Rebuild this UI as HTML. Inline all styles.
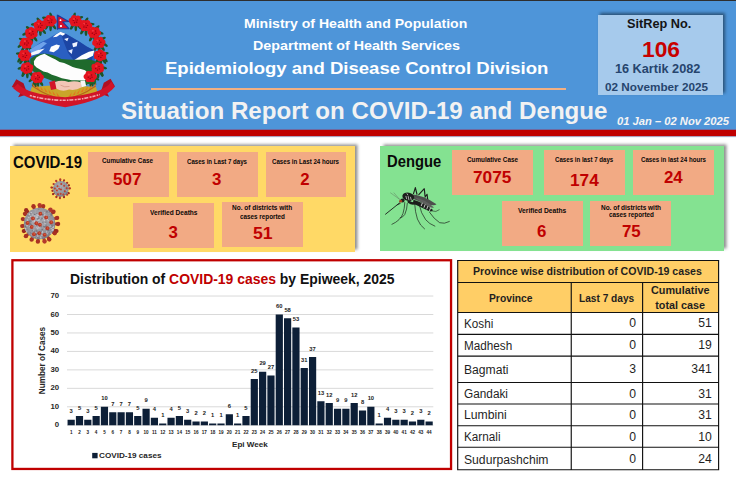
<!DOCTYPE html>
<html><head><meta charset="utf-8"><title>Situation Report on COVID-19 and Dengue</title>
<style>
html,body{margin:0;padding:0;background:#fff;}
body{width:736px;height:479px;position:relative;overflow:hidden;font-family:"Liberation Sans",sans-serif;}
.a{position:absolute;}
.t{position:absolute;white-space:nowrap;font-weight:bold;color:#fff;line-height:normal;}
.card{position:absolute;background:#f2aa84;}
</style></head><body>
<div class="a" style="left:0px;top:0px;width:736.00px;height:130.00px;background:#4e95d9;"></div>
<div class="a" style="left:0px;top:0px;width:736.00px;height:1.00px;background:#2e2e2e;"></div>
<div class="a" style="left:0px;top:129px;width:736.00px;height:1.00px;background:#7069a0;"></div>
<div class="a" style="left:0px;top:130px;width:736.00px;height:6.00px;background:#c00000;"></div>
<div class="a" style="left:0px;top:136px;width:736.00px;height:1.00px;background:#aca2bd;"></div>
<div class="a" style="left:0px;top:137px;width:736.00px;height:1.00px;background:#f0f5fc;"></div>
<div class="a" style="left:151px;top:87.7px;width:414.60px;height:2.00px;background:#f3b083;"></div>
<div class="a" style="left:598px;top:14.9px;width:125.20px;height:80.60px;background:#a6caec;box-shadow:2px -2px 3px rgba(0,0,0,.45);"></div>
<div class="a" style="left:10px;top:146.3px;width:345.00px;height:105.30px;background:#ffd966;box-shadow:2.5px -2.5px 3px rgba(0,0,0,.45);"></div>
<div class="a" style="left:379.6px;top:145.6px;width:344.40px;height:105.90px;background:#84e291;box-shadow:2.5px -2.5px 3px rgba(0,0,0,.45);"></div>
<div class="card" style="left:87.75px;top:152px;width:80.75px;height:44.50px"></div>
<div class="card" style="left:177px;top:152px;width:80.75px;height:44.50px"></div>
<div class="card" style="left:265.5px;top:152px;width:80.75px;height:44.50px"></div>
<div class="card" style="left:132.75px;top:203px;width:80.75px;height:44.50px"></div>
<div class="card" style="left:222px;top:202px;width:80.75px;height:44.50px"></div>
<div class="card" style="left:452px;top:150.25px;width:80.75px;height:44.50px"></div>
<div class="card" style="left:543.75px;top:150.25px;width:80.75px;height:44.50px"></div>
<div class="card" style="left:632.75px;top:150.25px;width:80.75px;height:44.50px"></div>
<div class="card" style="left:501.5px;top:201px;width:81.00px;height:44.50px"></div>
<div class="card" style="left:590.25px;top:201px;width:80.75px;height:44.50px"></div>
<svg class="a" style="left:10px;top:258px" width="444" height="214" viewBox="10 258 444 214"><rect x="12.4" y="260.25" width="438.65" height="208.7" fill="#fff" stroke="#c00000" stroke-width="2.3"/></svg>
<svg class="a" style="left:13px;top:261px" width="437" height="206" viewBox="13 261 437 206"><rect x="67" y="424.75" width="366.3" height="1" fill="#d9d9d9"/><rect x="67" y="406.29" width="366.3" height="1" fill="#d9d9d9"/><rect x="67" y="387.83" width="366.3" height="1" fill="#d9d9d9"/><rect x="67" y="369.37" width="366.3" height="1" fill="#d9d9d9"/><rect x="67" y="350.91" width="366.3" height="1" fill="#d9d9d9"/><rect x="67" y="332.45" width="366.3" height="1" fill="#d9d9d9"/><rect x="67" y="313.99" width="366.3" height="1" fill="#d9d9d9"/><rect x="67" y="295.53" width="366.3" height="1" fill="#d9d9d9"/><path d="M67.56 425.25v-5.54h7.2v5.54zM75.89 425.25v-9.23h7.2v9.23zM84.21 425.25v-5.54h7.2v5.54zM92.54 425.25v-9.23h7.2v9.23zM100.86 425.25v-18.46h7.2v18.46zM109.19 425.25v-12.92h7.2v12.92zM117.51 425.25v-12.92h7.2v12.92zM125.84 425.25v-12.92h7.2v12.92zM134.16 425.25v-9.23h7.2v9.23zM142.49 425.25v-16.61h7.2v16.61zM150.81 425.25v-7.38h7.2v7.38zM159.14 425.25v-1.85h7.2v1.85zM167.46 425.25v-7.38h7.2v7.38zM175.79 425.25v-9.23h7.2v9.23zM184.11 425.25v-5.54h7.2v5.54zM192.44 425.25v-3.69h7.2v3.69zM200.76 425.25v-3.69h7.2v3.69zM209.09 425.25v-1.85h7.2v1.85zM217.41 425.25v-1.85h7.2v1.85zM225.74 425.25v-11.08h7.2v11.08zM234.06 425.25v-1.85h7.2v1.85zM242.39 425.25v-9.23h7.2v9.23zM250.71 425.25v-46.15h7.2v46.15zM259.04 425.25v-53.53h7.2v53.53zM267.36 425.25v-49.84h7.2v49.84zM275.69 425.25v-110.76h7.2v110.76zM284.01 425.25v-107.07h7.2v107.07zM292.34 425.25v-97.84h7.2v97.84zM300.66 425.25v-57.23h7.2v57.23zM308.99 425.25v-68.30h7.2v68.30zM317.31 425.25v-24.00h7.2v24.00zM325.64 425.25v-22.15h7.2v22.15zM333.96 425.25v-16.61h7.2v16.61zM342.29 425.25v-16.61h7.2v16.61zM350.61 425.25v-22.15h7.2v22.15zM358.94 425.25v-14.77h7.2v14.77zM367.26 425.25v-18.46h7.2v18.46zM375.59 425.25v-1.85h7.2v1.85zM383.91 425.25v-7.38h7.2v7.38zM392.24 425.25v-5.54h7.2v5.54zM400.56 425.25v-5.54h7.2v5.54zM408.89 425.25v-3.69h7.2v3.69zM417.21 425.25v-5.54h7.2v5.54zM425.54 425.25v-3.69h7.2v3.69z" fill="#0d1f37"/><rect x="92.2" y="452.9" width="5.4" height="5.4" fill="#0d1f37"/></svg>
<svg class="a" style="left:455px;top:258px" width="268" height="214" viewBox="455 258 268 214"><rect x="457.7" y="260.4" width="260.9" height="52.1" fill="#ffce66"/><path d="M457.1 260.45H719.2M457.1 282.5H719.2M457.1 312.5H719.2M457.1 334.4H719.2M457.1 356.1H719.2M457.1 382.5H719.2M457.1 404H719.2M457.1 425.75H719.2M457.1 447.25H719.2M457.1 469.7H719.2M457.7 259.9V470.3M571.25 282.5V470.3M642.6 282.5V470.3M718.6 259.9V470.3" fill="none" stroke="#111" stroke-width="1.15"/></svg>
<svg class="a" style="left:5px;top:8px" width="120" height="108" viewBox="0 0 532 479"><path d="M200 60 Q100 110 92 210 Q92 280 150 320 M312 60 Q412 110 418 210 Q420 280 372 316" fill="none" stroke="#1f5a2a" stroke-width="7"/><ellipse cx="186" cy="82" rx="16" ry="6" fill="#1d5528" transform="rotate(-60 186 82)"/><ellipse cx="202" cy="87" rx="16" ry="6" fill="#1d5528" transform="rotate(-90 202 87)"/><ellipse cx="216" cy="81" rx="16" ry="6" fill="#1d5528" transform="rotate(-125 216 81)"/><ellipse cx="179" cy="45" rx="15" ry="6" fill="#1d5528" transform="rotate(-168 179 45)"/><ellipse cx="204" cy="34" rx="15" ry="6" fill="#1d5528" transform="rotate(-107 204 34)"/><ellipse cx="141" cy="103" rx="16" ry="6" fill="#1d5528" transform="rotate(-60 141 103)"/><ellipse cx="157" cy="108" rx="16" ry="6" fill="#1d5528" transform="rotate(-90 157 108)"/><ellipse cx="171" cy="102" rx="16" ry="6" fill="#1d5528" transform="rotate(-125 171 102)"/><ellipse cx="130" cy="73" rx="15" ry="6" fill="#1d5528" transform="rotate(-185 130 73)"/><ellipse cx="150" cy="55" rx="15" ry="6" fill="#1d5528" transform="rotate(-125 150 55)"/><ellipse cx="103" cy="136" rx="16" ry="6" fill="#1d5528" transform="rotate(-60 103 136)"/><ellipse cx="119" cy="141" rx="16" ry="6" fill="#1d5528" transform="rotate(-90 119 141)"/><ellipse cx="133" cy="135" rx="16" ry="6" fill="#1d5528" transform="rotate(-125 133 135)"/><ellipse cx="90" cy="114" rx="15" ry="6" fill="#1d5528" transform="rotate(-203 90 114)"/><ellipse cx="105" cy="91" rx="15" ry="6" fill="#1d5528" transform="rotate(-142 105 91)"/><ellipse cx="80" cy="180" rx="16" ry="6" fill="#1d5528" transform="rotate(-60 80 180)"/><ellipse cx="96" cy="185" rx="16" ry="6" fill="#1d5528" transform="rotate(-90 96 185)"/><ellipse cx="110" cy="179" rx="16" ry="6" fill="#1d5528" transform="rotate(-125 110 179)"/><ellipse cx="68" cy="166" rx="15" ry="6" fill="#1d5528" transform="rotate(-219 68 166)"/><ellipse cx="75" cy="140" rx="15" ry="6" fill="#1d5528" transform="rotate(-159 75 140)"/><ellipse cx="73" cy="235" rx="16" ry="6" fill="#1d5528" transform="rotate(-60 73 235)"/><ellipse cx="89" cy="240" rx="16" ry="6" fill="#1d5528" transform="rotate(-90 89 240)"/><ellipse cx="103" cy="234" rx="16" ry="6" fill="#1d5528" transform="rotate(-125 103 234)"/><ellipse cx="64" cy="229" rx="15" ry="6" fill="#1d5528" transform="rotate(122 64 229)"/><ellipse cx="63" cy="202" rx="15" ry="6" fill="#1d5528" transform="rotate(182 63 202)"/><ellipse cx="83" cy="291" rx="16" ry="6" fill="#1d5528" transform="rotate(-60 83 291)"/><ellipse cx="99" cy="296" rx="16" ry="6" fill="#1d5528" transform="rotate(-90 99 296)"/><ellipse cx="113" cy="290" rx="16" ry="6" fill="#1d5528" transform="rotate(-125 113 290)"/><ellipse cx="81" cy="291" rx="15" ry="6" fill="#1d5528" transform="rotate(103 81 291)"/><ellipse cx="70" cy="266" rx="15" ry="6" fill="#1d5528" transform="rotate(163 70 266)"/><ellipse cx="129" cy="333" rx="16" ry="6" fill="#1d5528" transform="rotate(-60 129 333)"/><ellipse cx="145" cy="338" rx="16" ry="6" fill="#1d5528" transform="rotate(-90 145 338)"/><ellipse cx="159" cy="332" rx="16" ry="6" fill="#1d5528" transform="rotate(-125 159 332)"/><ellipse cx="135" cy="338" rx="15" ry="6" fill="#1d5528" transform="rotate(81 135 338)"/><ellipse cx="117" cy="318" rx="15" ry="6" fill="#1d5528" transform="rotate(142 117 318)"/><ellipse cx="298" cy="82" rx="16" ry="6" fill="#1d5528" transform="rotate(-60 298 82)"/><ellipse cx="314" cy="87" rx="16" ry="6" fill="#1d5528" transform="rotate(-90 314 87)"/><ellipse cx="328" cy="81" rx="16" ry="6" fill="#1d5528" transform="rotate(-125 328 81)"/><ellipse cx="307" cy="35" rx="15" ry="6" fill="#1d5528" transform="rotate(-76 307 35)"/><ellipse cx="332" cy="43" rx="15" ry="6" fill="#1d5528" transform="rotate(-16 332 43)"/><ellipse cx="343" cy="103" rx="16" ry="6" fill="#1d5528" transform="rotate(-60 343 103)"/><ellipse cx="359" cy="108" rx="16" ry="6" fill="#1d5528" transform="rotate(-90 359 108)"/><ellipse cx="373" cy="102" rx="16" ry="6" fill="#1d5528" transform="rotate(-125 373 102)"/><ellipse cx="360" cy="55" rx="15" ry="6" fill="#1d5528" transform="rotate(-58 360 55)"/><ellipse cx="382" cy="71" rx="15" ry="6" fill="#1d5528" transform="rotate(2 382 71)"/><ellipse cx="382" cy="134" rx="16" ry="6" fill="#1d5528" transform="rotate(-60 382 134)"/><ellipse cx="398" cy="139" rx="16" ry="6" fill="#1d5528" transform="rotate(-90 398 139)"/><ellipse cx="412" cy="133" rx="16" ry="6" fill="#1d5528" transform="rotate(-125 412 133)"/><ellipse cx="407" cy="88" rx="15" ry="6" fill="#1d5528" transform="rotate(-41 407 88)"/><ellipse cx="423" cy="110" rx="15" ry="6" fill="#1d5528" transform="rotate(19 423 110)"/><ellipse cx="402" cy="178" rx="16" ry="6" fill="#1d5528" transform="rotate(-60 402 178)"/><ellipse cx="418" cy="183" rx="16" ry="6" fill="#1d5528" transform="rotate(-90 418 183)"/><ellipse cx="432" cy="177" rx="16" ry="6" fill="#1d5528" transform="rotate(-125 432 177)"/><ellipse cx="433" cy="136" rx="15" ry="6" fill="#1d5528" transform="rotate(-25 433 136)"/><ellipse cx="443" cy="162" rx="15" ry="6" fill="#1d5528" transform="rotate(36 443 162)"/><ellipse cx="408" cy="235" rx="16" ry="6" fill="#1d5528" transform="rotate(-60 408 235)"/><ellipse cx="424" cy="240" rx="16" ry="6" fill="#1d5528" transform="rotate(-90 424 240)"/><ellipse cx="438" cy="234" rx="16" ry="6" fill="#1d5528" transform="rotate(-125 438 234)"/><ellipse cx="445" cy="201" rx="15" ry="6" fill="#1d5528" transform="rotate(-5 445 201)"/><ellipse cx="445" cy="228" rx="15" ry="6" fill="#1d5528" transform="rotate(55 445 228)"/><ellipse cx="397" cy="291" rx="16" ry="6" fill="#1d5528" transform="rotate(-60 397 291)"/><ellipse cx="413" cy="296" rx="16" ry="6" fill="#1d5528" transform="rotate(-90 413 296)"/><ellipse cx="427" cy="290" rx="16" ry="6" fill="#1d5528" transform="rotate(-125 427 290)"/><ellipse cx="438" cy="265" rx="15" ry="6" fill="#1d5528" transform="rotate(15 438 265)"/><ellipse cx="428" cy="291" rx="15" ry="6" fill="#1d5528" transform="rotate(75 428 291)"/><ellipse cx="364" cy="329" rx="16" ry="6" fill="#1d5528" transform="rotate(-60 364 329)"/><ellipse cx="380" cy="334" rx="16" ry="6" fill="#1d5528" transform="rotate(-90 380 334)"/><ellipse cx="394" cy="328" rx="16" ry="6" fill="#1d5528" transform="rotate(-125 394 328)"/><ellipse cx="405" cy="312" rx="15" ry="6" fill="#1d5528" transform="rotate(33 405 312)"/><ellipse cx="388" cy="333" rx="15" ry="6" fill="#1d5528" transform="rotate(93 388 333)"/><path d="M108 186 L135 168 L159 152 L189 137 L222 118 L246 105 L269 114 L296 130 L332 151 L362 171 L396 188 L402 262 L108 262Z" fill="#2a5fc2"/><path d="M246 105 L269 114 L296 130 L332 151 L362 171 L396 188 L384 236 L312 242 L280 200 L260 150Z" fill="#1c45a4"/><path d="M108 186 L135 168 L170 150 L186 156 L160 178 L122 204Z" fill="#6ea2ea"/><path d="M246 105 L226 118 L212 130 L230 127 L244 118 L256 123 L268 114Z" fill="#fff"/><path d="M196 192 L204 172 L228 162 L244 166 L236 182 L216 196Z" fill="#fff"/><path d="M262 138 L282 132 L276 148Z" fill="#eef3ff"/><path d="M298 158 L322 150 L318 170 L302 174Z" fill="#eef3ff"/><path d="M280 190 L300 182 L296 204Z" fill="#e3ebff"/><path d="M306 232 L340 210 L372 194 L396 188 L390 212 L350 232 L320 240Z" fill="#fff"/><path d="M112 200 L146 186 L176 180 L150 202 L116 212Z" fill="#f1f5ff"/><path d="M112 226 Q140 204 175 202 Q215 206 250 226 Q300 232 340 228 Q380 226 402 238 L404 330 L330 345 L240 335 L150 300 L112 270Z" fill="#1f6a2c"/><path d="M128 236 L139 220 L156 210 L175 203 L190 212 L205 220 L224 228 L242 240 L262 244 L282 253 L300 262 L315 266 L336 270 L355 276 L365 286 L372 300 L362 318 L340 322 L315 320 L296 320 L275 316 L252 312 L229 303 L208 296 L189 286 L170 282 L155 273 L140 264 L129 253Z" fill="#fdfdfd"/><path d="M118 352 Q260 334 404 352 L416 398 Q260 436 104 398Z" fill="#c9a62a"/><path d="M244 396 l-16 -22 l4 18Z" fill="#e2781e"/><path d="M226 389 l-16 -22 l4 18Z" fill="#e2781e"/><path d="M208 382 l-16 -22 l4 18Z" fill="#e2781e"/><path d="M190 375 l-16 -22 l4 18Z" fill="#e2781e"/><path d="M172 368 l-16 -22 l4 18Z" fill="#e2781e"/><path d="M154 361 l-16 -22 l4 18Z" fill="#e2781e"/><path d="M136 354 l-16 -22 l4 18Z" fill="#e2781e"/><path d="M262 404 Q192 396 122 346" fill="none" stroke="#b9641a" stroke-width="5"/><path d="M280 396 l16 -22 l-4 18Z" fill="#e2781e"/><path d="M298 389 l16 -22 l-4 18Z" fill="#e2781e"/><path d="M316 382 l16 -22 l-4 18Z" fill="#e2781e"/><path d="M334 375 l16 -22 l-4 18Z" fill="#e2781e"/><path d="M352 368 l16 -22 l-4 18Z" fill="#e2781e"/><path d="M370 361 l16 -22 l-4 18Z" fill="#e2781e"/><path d="M388 354 l16 -22 l-4 18Z" fill="#e2781e"/><path d="M262 404 Q332 396 402 346" fill="none" stroke="#b9641a" stroke-width="5"/><path d="M196 328 L222 322 L230 358 L204 364Z" fill="#d31628"/><path d="M222 328 Q250 318 282 328 Q310 322 338 330 L340 352 Q312 368 284 362 Q256 374 228 358Z" fill="#f3c6b6"/><path d="M246 342 Q264 354 286 348" fill="none" stroke="#d99c8a" stroke-width="4"/><path d="M334 324 L354 320 L360 346 L340 352Z" fill="#f6f6f6"/><path d="M30 350 L50 316 L82 334 L100 382 L58 396 L74 366Z" fill="#b01022"/><path d="M488 348 L468 314 L438 332 L422 380 L462 394 L446 364Z" fill="#b01022"/><path d="M56 336 Q94 382 267 396 Q436 382 472 326 L486 350 Q440 410 267 440 Q92 410 36 356Z" fill="#d21428"/><path d="M110 388 Q267 432 420 384" fill="none" stroke="#f2aab0" stroke-width="7" stroke-dasharray="9 4 14 5 7 4 18 6"/><ellipse cx="200" cy="57" rx="26" ry="23" fill="#d8101f"/><circle cx="207" cy="71" r="11.5" fill="#e4141f"/><circle cx="189" cy="69" r="11.5" fill="#e4141f"/><circle cx="182" cy="55" r="11.5" fill="#e4141f"/><circle cx="193" cy="43" r="11.5" fill="#e4141f"/><circle cx="211" cy="45" r="11.5" fill="#e4141f"/><circle cx="218" cy="59" r="11.5" fill="#e4141f"/><circle cx="206" cy="63" r="3.2" fill="#9a0010"/><circle cx="196" cy="65" r="3.2" fill="#9a0010"/><circle cx="191" cy="55" r="3.2" fill="#9a0010"/><circle cx="199" cy="48" r="3.2" fill="#9a0010"/><circle cx="208" cy="53" r="3.2" fill="#9a0010"/><circle cx="194" cy="49" r="5" fill="#f4323a"/><ellipse cx="155" cy="78" rx="26" ry="23" fill="#d8101f"/><circle cx="172" cy="82" r="11.5" fill="#e4141f"/><circle cx="159" cy="93" r="11.5" fill="#e4141f"/><circle cx="142" cy="88" r="11.5" fill="#e4141f"/><circle cx="138" cy="74" r="11.5" fill="#e4141f"/><circle cx="151" cy="63" r="11.5" fill="#e4141f"/><circle cx="168" cy="68" r="11.5" fill="#e4141f"/><circle cx="158" cy="86" r="3.2" fill="#9a0010"/><circle cx="148" cy="84" r="3.2" fill="#9a0010"/><circle cx="147" cy="73" r="3.2" fill="#9a0010"/><circle cx="157" cy="69" r="3.2" fill="#9a0010"/><circle cx="164" cy="77" r="3.2" fill="#9a0010"/><circle cx="149" cy="70" r="5" fill="#f4323a"/><ellipse cx="117" cy="111" rx="26" ry="23" fill="#d8101f"/><circle cx="118" cy="126" r="11.5" fill="#e4141f"/><circle cx="102" cy="119" r="11.5" fill="#e4141f"/><circle cx="101" cy="104" r="11.5" fill="#e4141f"/><circle cx="116" cy="96" r="11.5" fill="#e4141f"/><circle cx="132" cy="103" r="11.5" fill="#e4141f"/><circle cx="133" cy="118" r="11.5" fill="#e4141f"/><circle cx="125" cy="115" r="3.2" fill="#9a0010"/><circle cx="116" cy="120" r="3.2" fill="#9a0010"/><circle cx="108" cy="113" r="3.2" fill="#9a0010"/><circle cx="112" cy="103" r="3.2" fill="#9a0010"/><circle cx="123" cy="104" r="3.2" fill="#9a0010"/><circle cx="111" cy="103" r="5" fill="#f4323a"/><ellipse cx="94" cy="155" rx="26" ry="23" fill="#d8101f"/><circle cx="105" cy="167" r="11.5" fill="#e4141f"/><circle cx="87" cy="169" r="11.5" fill="#e4141f"/><circle cx="76" cy="157" r="11.5" fill="#e4141f"/><circle cx="83" cy="143" r="11.5" fill="#e4141f"/><circle cx="101" cy="141" r="11.5" fill="#e4141f"/><circle cx="112" cy="153" r="11.5" fill="#e4141f"/><circle cx="103" cy="155" r="3.2" fill="#9a0010"/><circle cx="97" cy="164" r="3.2" fill="#9a0010"/><circle cx="87" cy="160" r="3.2" fill="#9a0010"/><circle cx="87" cy="150" r="3.2" fill="#9a0010"/><circle cx="97" cy="146" r="3.2" fill="#9a0010"/><circle cx="88" cy="147" r="5" fill="#f4323a"/><ellipse cx="87" cy="210" rx="26" ry="23" fill="#d8101f"/><circle cx="98" cy="222" r="11.5" fill="#e4141f"/><circle cx="80" cy="224" r="11.5" fill="#e4141f"/><circle cx="69" cy="212" r="11.5" fill="#e4141f"/><circle cx="76" cy="198" r="11.5" fill="#e4141f"/><circle cx="94" cy="196" r="11.5" fill="#e4141f"/><circle cx="105" cy="208" r="11.5" fill="#e4141f"/><circle cx="96" cy="210" r="3.2" fill="#9a0010"/><circle cx="90" cy="219" r="3.2" fill="#9a0010"/><circle cx="80" cy="215" r="3.2" fill="#9a0010"/><circle cx="80" cy="205" r="3.2" fill="#9a0010"/><circle cx="90" cy="201" r="3.2" fill="#9a0010"/><circle cx="81" cy="202" r="5" fill="#f4323a"/><ellipse cx="97" cy="266" rx="26" ry="23" fill="#d8101f"/><circle cx="93" cy="281" r="11.5" fill="#e4141f"/><circle cx="80" cy="270" r="11.5" fill="#e4141f"/><circle cx="84" cy="256" r="11.5" fill="#e4141f"/><circle cx="101" cy="251" r="11.5" fill="#e4141f"/><circle cx="114" cy="262" r="11.5" fill="#e4141f"/><circle cx="110" cy="276" r="11.5" fill="#e4141f"/><circle cx="105" cy="270" r="3.2" fill="#9a0010"/><circle cx="96" cy="275" r="3.2" fill="#9a0010"/><circle cx="88" cy="268" r="3.2" fill="#9a0010"/><circle cx="92" cy="258" r="3.2" fill="#9a0010"/><circle cx="103" cy="259" r="3.2" fill="#9a0010"/><circle cx="91" cy="258" r="5" fill="#f4323a"/><ellipse cx="143" cy="308" rx="26" ry="23" fill="#d8101f"/><circle cx="154" cy="320" r="11.5" fill="#e4141f"/><circle cx="136" cy="322" r="11.5" fill="#e4141f"/><circle cx="125" cy="310" r="11.5" fill="#e4141f"/><circle cx="132" cy="296" r="11.5" fill="#e4141f"/><circle cx="150" cy="294" r="11.5" fill="#e4141f"/><circle cx="161" cy="306" r="11.5" fill="#e4141f"/><circle cx="146" cy="316" r="3.2" fill="#9a0010"/><circle cx="136" cy="314" r="3.2" fill="#9a0010"/><circle cx="135" cy="303" r="3.2" fill="#9a0010"/><circle cx="145" cy="299" r="3.2" fill="#9a0010"/><circle cx="152" cy="307" r="3.2" fill="#9a0010"/><circle cx="137" cy="300" r="5" fill="#f4323a"/><ellipse cx="312" cy="57" rx="26" ry="23" fill="#d8101f"/><circle cx="319" cy="71" r="11.5" fill="#e4141f"/><circle cx="301" cy="69" r="11.5" fill="#e4141f"/><circle cx="294" cy="55" r="11.5" fill="#e4141f"/><circle cx="305" cy="43" r="11.5" fill="#e4141f"/><circle cx="323" cy="45" r="11.5" fill="#e4141f"/><circle cx="330" cy="59" r="11.5" fill="#e4141f"/><circle cx="318" cy="63" r="3.2" fill="#9a0010"/><circle cx="308" cy="65" r="3.2" fill="#9a0010"/><circle cx="303" cy="55" r="3.2" fill="#9a0010"/><circle cx="311" cy="48" r="3.2" fill="#9a0010"/><circle cx="320" cy="53" r="3.2" fill="#9a0010"/><circle cx="306" cy="49" r="5" fill="#f4323a"/><ellipse cx="357" cy="78" rx="26" ry="23" fill="#d8101f"/><circle cx="375" cy="78" r="11.5" fill="#e4141f"/><circle cx="366" cy="91" r="11.5" fill="#e4141f"/><circle cx="348" cy="91" r="11.5" fill="#e4141f"/><circle cx="339" cy="78" r="11.5" fill="#e4141f"/><circle cx="348" cy="65" r="11.5" fill="#e4141f"/><circle cx="366" cy="65" r="11.5" fill="#e4141f"/><circle cx="360" cy="86" r="3.2" fill="#9a0010"/><circle cx="350" cy="84" r="3.2" fill="#9a0010"/><circle cx="349" cy="73" r="3.2" fill="#9a0010"/><circle cx="359" cy="69" r="3.2" fill="#9a0010"/><circle cx="366" cy="77" r="3.2" fill="#9a0010"/><circle cx="351" cy="70" r="5" fill="#f4323a"/><ellipse cx="396" cy="109" rx="26" ry="23" fill="#d8101f"/><circle cx="403" cy="123" r="11.5" fill="#e4141f"/><circle cx="385" cy="121" r="11.5" fill="#e4141f"/><circle cx="378" cy="107" r="11.5" fill="#e4141f"/><circle cx="389" cy="95" r="11.5" fill="#e4141f"/><circle cx="407" cy="97" r="11.5" fill="#e4141f"/><circle cx="414" cy="111" r="11.5" fill="#e4141f"/><circle cx="396" cy="118" r="3.2" fill="#9a0010"/><circle cx="387" cy="112" r="3.2" fill="#9a0010"/><circle cx="391" cy="102" r="3.2" fill="#9a0010"/><circle cx="402" cy="102" r="3.2" fill="#9a0010"/><circle cx="404" cy="112" r="3.2" fill="#9a0010"/><circle cx="390" cy="101" r="5" fill="#f4323a"/><ellipse cx="416" cy="153" rx="26" ry="23" fill="#d8101f"/><circle cx="427" cy="165" r="11.5" fill="#e4141f"/><circle cx="409" cy="167" r="11.5" fill="#e4141f"/><circle cx="398" cy="155" r="11.5" fill="#e4141f"/><circle cx="405" cy="141" r="11.5" fill="#e4141f"/><circle cx="423" cy="139" r="11.5" fill="#e4141f"/><circle cx="434" cy="151" r="11.5" fill="#e4141f"/><circle cx="419" cy="161" r="3.2" fill="#9a0010"/><circle cx="409" cy="159" r="3.2" fill="#9a0010"/><circle cx="408" cy="148" r="3.2" fill="#9a0010"/><circle cx="418" cy="144" r="3.2" fill="#9a0010"/><circle cx="425" cy="152" r="3.2" fill="#9a0010"/><circle cx="410" cy="145" r="5" fill="#f4323a"/><ellipse cx="422" cy="210" rx="26" ry="23" fill="#d8101f"/><circle cx="437" cy="218" r="11.5" fill="#e4141f"/><circle cx="421" cy="225" r="11.5" fill="#e4141f"/><circle cx="406" cy="216" r="11.5" fill="#e4141f"/><circle cx="407" cy="202" r="11.5" fill="#e4141f"/><circle cx="423" cy="195" r="11.5" fill="#e4141f"/><circle cx="438" cy="204" r="11.5" fill="#e4141f"/><circle cx="431" cy="210" r="3.2" fill="#9a0010"/><circle cx="425" cy="219" r="3.2" fill="#9a0010"/><circle cx="415" cy="215" r="3.2" fill="#9a0010"/><circle cx="415" cy="205" r="3.2" fill="#9a0010"/><circle cx="425" cy="201" r="3.2" fill="#9a0010"/><circle cx="416" cy="202" r="5" fill="#f4323a"/><ellipse cx="411" cy="266" rx="26" ry="23" fill="#d8101f"/><circle cx="412" cy="281" r="11.5" fill="#e4141f"/><circle cx="396" cy="274" r="11.5" fill="#e4141f"/><circle cx="395" cy="259" r="11.5" fill="#e4141f"/><circle cx="410" cy="251" r="11.5" fill="#e4141f"/><circle cx="426" cy="258" r="11.5" fill="#e4141f"/><circle cx="427" cy="273" r="11.5" fill="#e4141f"/><circle cx="419" cy="270" r="3.2" fill="#9a0010"/><circle cx="410" cy="275" r="3.2" fill="#9a0010"/><circle cx="402" cy="268" r="3.2" fill="#9a0010"/><circle cx="406" cy="258" r="3.2" fill="#9a0010"/><circle cx="417" cy="259" r="3.2" fill="#9a0010"/><circle cx="405" cy="258" r="5" fill="#f4323a"/><ellipse cx="378" cy="304" rx="26" ry="23" fill="#d8101f"/><circle cx="396" cy="304" r="11.5" fill="#e4141f"/><circle cx="387" cy="317" r="11.5" fill="#e4141f"/><circle cx="369" cy="317" r="11.5" fill="#e4141f"/><circle cx="360" cy="304" r="11.5" fill="#e4141f"/><circle cx="369" cy="291" r="11.5" fill="#e4141f"/><circle cx="387" cy="291" r="11.5" fill="#e4141f"/><circle cx="378" cy="313" r="3.2" fill="#9a0010"/><circle cx="369" cy="307" r="3.2" fill="#9a0010"/><circle cx="373" cy="297" r="3.2" fill="#9a0010"/><circle cx="384" cy="297" r="3.2" fill="#9a0010"/><circle cx="386" cy="307" r="3.2" fill="#9a0010"/><circle cx="372" cy="296" r="5" fill="#f4323a"/><path d="M232 30 L232 96" stroke="#23408f" stroke-width="5"/><path d="M234 32 L282 60 L256 62 L284 92 L234 92Z" fill="#d8102a" stroke="#1d3a9a" stroke-width="5" stroke-linejoin="round"/><circle cx="246" cy="54" r="4" fill="#fff"/><circle cx="248" cy="80" r="5" fill="#fff"/></svg>
<svg class="a" style="left:49.05px;top:176.55px" width="23.70" height="23.70" viewBox="-11.85 -11.85 23.70 23.70"><defs><radialGradient id="vg3" cx="45%" cy="40%" r="65%"><stop offset="0" stop-color="#b0b0b6"/><stop offset="0.75" stop-color="#8f8f97"/><stop offset="1" stop-color="#74747e"/></radialGradient></defs><path d="M7.13 0.10L9.20 0.55L9.10 -1.51L7.08 -0.85Z" fill="#b4382c"/><circle cx="9.15" cy="-0.48" r="1.08" fill="#b4382c"/><path d="M6.00 3.84L7.48 5.28L8.47 3.48L6.46 3.01Z" fill="#9c2a20"/><circle cx="7.98" cy="4.38" r="1.08" fill="#9c2a20"/><path d="M4.87 5.20L5.66 6.69L7.06 5.19L5.52 4.50Z" fill="#b4382c"/><circle cx="6.36" cy="5.94" r="1.08" fill="#b4382c"/><path d="M2.08 6.82L2.19 8.68L4.11 7.95L2.96 6.48Z" fill="#9c2a20"/><circle cx="3.15" cy="8.32" r="1.08" fill="#9c2a20"/><path d="M-1.17 7.03L-1.95 9.27L0.09 9.47L-0.23 7.12Z" fill="#b4382c"/><circle cx="-0.93" cy="9.37" r="1.08" fill="#b4382c"/><path d="M-3.84 6.00L-5.45 7.77L-3.65 8.76L-3.01 6.46Z" fill="#a93022"/><circle cx="-4.55" cy="8.27" r="1.08" fill="#a93022"/><path d="M-6.13 3.63L-8.37 4.50L-7.21 6.19L-5.59 4.41Z" fill="#9c2a20"/><circle cx="-7.79" cy="5.34" r="1.08" fill="#9c2a20"/><path d="M-7.03 1.17L-8.71 1.00L-8.24 3.00L-6.81 2.09Z" fill="#a93022"/><circle cx="-8.47" cy="2.00" r="1.08" fill="#a93022"/><path d="M-6.97 -1.47L-9.28 -2.36L-9.57 -0.32L-7.11 -0.53Z" fill="#a93022"/><circle cx="-9.43" cy="-1.34" r="1.08" fill="#a93022"/><path d="M-5.65 -4.34L-6.68 -5.69L-7.82 -3.99L-6.18 -3.55Z" fill="#b4382c"/><circle cx="-7.25" cy="-4.84" r="1.08" fill="#b4382c"/><path d="M-3.18 -6.38L-3.81 -8.56L-5.59 -7.52L-4.00 -5.90Z" fill="#b4382c"/><circle cx="-4.70" cy="-8.04" r="1.08" fill="#b4382c"/><path d="M0.03 -7.13L0.44 -9.54L-1.61 -9.41L-0.91 -7.07Z" fill="#b4382c"/><circle cx="-0.59" cy="-9.47" r="1.08" fill="#b4382c"/><path d="M2.95 -6.49L4.20 -8.24L2.27 -8.96L2.06 -6.82Z" fill="#a93022"/><circle cx="3.24" cy="-8.60" r="1.08" fill="#a93022"/><path d="M5.47 -4.57L7.06 -5.31L5.64 -6.80L4.82 -5.25Z" fill="#a93022"/><circle cx="6.35" cy="-6.06" r="1.08" fill="#a93022"/><path d="M6.69 -2.47L8.56 -2.70L7.72 -4.57L6.30 -3.33Z" fill="#9c2a20"/><circle cx="8.14" cy="-3.63" r="1.08" fill="#9c2a20"/><circle r="7.90" fill="url(#vg3)"/><circle cx="-5.58" cy="2.37" r="0.40" fill="#a6a6ae" opacity=".75"/><circle cx="-6.15" cy="3.32" r="0.40" fill="#666670" opacity=".75"/><circle cx="-3.47" cy="4.72" r="0.40" fill="#666670" opacity=".75"/><circle cx="0.49" cy="4.42" r="0.40" fill="#c6c6cc" opacity=".75"/><circle cx="4.73" cy="-5.98" r="0.40" fill="#9a8f92" opacity=".75"/><circle cx="-2.15" cy="-6.03" r="0.40" fill="#a6a6ae" opacity=".75"/><circle cx="7.11" cy="-1.61" r="0.40" fill="#666670" opacity=".75"/><circle cx="4.92" cy="3.77" r="0.40" fill="#9a8f92" opacity=".75"/><circle cx="2.85" cy="-5.05" r="0.40" fill="#a6a6ae" opacity=".75"/><circle cx="3.77" cy="3.75" r="0.40" fill="#9a8f92" opacity=".75"/><circle cx="2.27" cy="-0.15" r="0.40" fill="#c6c6cc" opacity=".75"/><circle cx="-2.52" cy="1.59" r="0.40" fill="#a6a6ae" opacity=".75"/><circle cx="-4.43" cy="2.18" r="0.40" fill="#c6c6cc" opacity=".75"/><circle cx="5.77" cy="1.65" r="0.40" fill="#c6c6cc" opacity=".75"/><circle cx="-4.22" cy="4.07" r="0.40" fill="#666670" opacity=".75"/><circle cx="5.56" cy="-5.16" r="0.40" fill="#666670" opacity=".75"/><circle cx="0.13" cy="1.45" r="0.40" fill="#c6c6cc" opacity=".75"/><circle cx="5.25" cy="2.76" r="0.40" fill="#c6c6cc" opacity=".75"/><circle cx="7.16" cy="-2.38" r="0.40" fill="#a6a6ae" opacity=".75"/><circle cx="-2.33" cy="-1.94" r="0.40" fill="#c6c6cc" opacity=".75"/><circle cx="4.43" cy="-0.56" r="0.40" fill="#a6a6ae" opacity=".75"/><circle cx="7.01" cy="-1.86" r="0.40" fill="#d2d2d8" opacity=".75"/><circle cx="-5.11" cy="5.00" r="0.40" fill="#d2d2d8" opacity=".75"/><circle cx="-3.66" cy="-4.65" r="0.40" fill="#666670" opacity=".75"/><circle cx="6.04" cy="4.54" r="0.40" fill="#666670" opacity=".75"/><circle cx="-0.81" cy="6.05" r="0.40" fill="#9a8f92" opacity=".75"/><circle cx="0.33" cy="4.19" r="0.40" fill="#a6a6ae" opacity=".75"/><circle cx="-5.62" cy="-0.75" r="0.40" fill="#c6c6cc" opacity=".75"/><circle cx="1.82" cy="-7.39" r="0.40" fill="#a6a6ae" opacity=".75"/><circle cx="5.96" cy="0.76" r="0.40" fill="#9a8f92" opacity=".75"/><circle cx="4.08" cy="4.53" r="0.40" fill="#a6a6ae" opacity=".75"/><circle cx="-6.17" cy="1.33" r="0.40" fill="#a6a6ae" opacity=".75"/><circle cx="-3.14" cy="-2.56" r="0.40" fill="#d2d2d8" opacity=".75"/><circle cx="1.87" cy="0.26" r="0.40" fill="#9a8f92" opacity=".75"/><circle cx="4.61" cy="0.62" r="0.40" fill="#9a8f92" opacity=".75"/><circle cx="-5.68" cy="1.60" r="0.40" fill="#a6a6ae" opacity=".75"/><circle cx="1.45" cy="2.96" r="0.40" fill="#a6a6ae" opacity=".75"/><circle cx="2.19" cy="-3.27" r="0.40" fill="#d2d2d8" opacity=".75"/><circle cx="5.46" cy="4.23" r="0.40" fill="#666670" opacity=".75"/><circle cx="-1.12" cy="-2.54" r="0.40" fill="#666670" opacity=".75"/><circle cx="1.18" cy="6.77" r="0.40" fill="#7b7b84" opacity=".75"/><circle cx="-2.96" cy="5.57" r="0.40" fill="#9a8f92" opacity=".75"/><circle cx="-0.78" cy="-2.32" r="0.40" fill="#a6a6ae" opacity=".75"/><circle cx="5.97" cy="-1.98" r="0.40" fill="#7b7b84" opacity=".75"/><circle cx="-6.56" cy="2.67" r="0.40" fill="#7b7b84" opacity=".75"/><circle cx="5.78" cy="3.18" r="0.40" fill="#7b7b84" opacity=".75"/><circle cx="3.86" cy="-3.40" r="0.40" fill="#7b7b84" opacity=".75"/><circle cx="0.33" cy="-1.37" r="0.40" fill="#7b7b84" opacity=".75"/><circle cx="-2.79" cy="6.43" r="0.40" fill="#666670" opacity=".75"/><circle cx="1.64" cy="3.70" r="0.40" fill="#9a8f92" opacity=".75"/><circle cx="5.18" cy="3.09" r="0.40" fill="#666670" opacity=".75"/><circle cx="2.84" cy="3.01" r="0.40" fill="#a6a6ae" opacity=".75"/><circle cx="-5.95" cy="1.34" r="0.40" fill="#a6a6ae" opacity=".75"/><circle cx="-4.29" cy="2.37" r="0.40" fill="#d2d2d8" opacity=".75"/><circle cx="0.29" cy="0.43" r="0.40" fill="#666670" opacity=".75"/><circle cx="5.03" cy="-0.41" r="0.40" fill="#9a8f92" opacity=".75"/><circle cx="1.15" cy="6.51" r="0.40" fill="#9a8f92" opacity=".75"/><circle cx="-0.09" cy="-7.52" r="0.40" fill="#666670" opacity=".75"/><circle cx="-1.98" cy="3.07" r="0.40" fill="#c6c6cc" opacity=".75"/><circle cx="4.74" cy="-5.88" r="0.40" fill="#c6c6cc" opacity=".75"/><circle cx="0.60" cy="-1.51" r="0.40" fill="#9a8f92" opacity=".75"/><circle cx="-3.40" cy="-0.26" r="0.40" fill="#d2d2d8" opacity=".75"/><circle cx="-0.78" cy="-0.41" r="0.40" fill="#9a8f92" opacity=".75"/><circle cx="3.94" cy="3.74" r="0.40" fill="#7b7b84" opacity=".75"/><circle cx="-2.89" cy="-4.74" r="0.40" fill="#d2d2d8" opacity=".75"/><circle cx="6.91" cy="2.40" r="0.40" fill="#c6c6cc" opacity=".75"/><circle cx="-2.09" cy="3.23" r="0.40" fill="#666670" opacity=".75"/><circle cx="-6.71" cy="0.97" r="0.40" fill="#a6a6ae" opacity=".75"/><circle cx="0.16" cy="0.63" r="0.99" fill="#b8392a"/><circle cx="0.32" cy="0.47" r="0.40" fill="#d8643a"/><circle cx="3.32" cy="-3.00" r="0.99" fill="#b8392a"/><circle cx="3.48" cy="-3.16" r="0.40" fill="#d8643a"/><circle cx="-3.32" cy="-2.53" r="0.99" fill="#b8392a"/><circle cx="-3.16" cy="-2.69" r="0.40" fill="#d8643a"/><circle cx="3.95" cy="2.37" r="0.99" fill="#b8392a"/><circle cx="4.11" cy="2.21" r="0.40" fill="#d8643a"/><circle cx="-3.95" cy="1.74" r="0.99" fill="#b8392a"/><circle cx="-3.79" cy="1.58" r="0.40" fill="#d8643a"/><circle cx="-0.16" cy="4.90" r="0.99" fill="#b8392a"/><circle cx="0.00" cy="4.74" r="0.40" fill="#d8643a"/><circle cx="0.40" cy="-4.90" r="0.99" fill="#b8392a"/><circle cx="0.55" cy="-5.06" r="0.40" fill="#d8643a"/><circle cx="5.85" cy="-0.63" r="0.99" fill="#b8392a"/><circle cx="6.00" cy="-0.79" r="0.40" fill="#d8643a"/><circle cx="-6.00" cy="-0.32" r="0.99" fill="#b8392a"/><circle cx="-5.85" cy="-0.47" r="0.40" fill="#d8643a"/><circle cx="2.53" cy="5.69" r="0.99" fill="#b8392a"/><circle cx="2.69" cy="5.53" r="0.40" fill="#d8643a"/><circle cx="-2.84" cy="5.37" r="0.99" fill="#b8392a"/><circle cx="-2.69" cy="5.21" r="0.40" fill="#d8643a"/><circle cx="-1.58" cy="-0.16" r="0.99" fill="#b8392a"/><circle cx="-1.42" cy="-0.32" r="0.40" fill="#d8643a"/></svg>
<svg class="a" style="left:16.15px;top:200.05px" width="47.10" height="47.10" viewBox="-23.55 -23.55 47.10 47.10"><defs><radialGradient id="vg5" cx="45%" cy="40%" r="65%"><stop offset="0" stop-color="#b0b0b6"/><stop offset="0.75" stop-color="#8f8f97"/><stop offset="1" stop-color="#74747e"/></radialGradient></defs><path d="M14.10 1.29L18.50 2.50L18.60 -1.58L14.15 -0.59Z" fill="#9c2a20"/><circle cx="18.55" cy="0.46" r="2.14" fill="#9c2a20"/><path d="M12.52 6.61L16.11 9.41L17.77 5.68L13.29 4.89Z" fill="#9c2a20"/><circle cx="16.94" cy="7.55" r="2.14" fill="#9c2a20"/><path d="M11.41 8.39L14.15 11.43L16.34 7.99L12.42 6.80Z" fill="#a93022"/><circle cx="15.24" cy="9.71" r="2.14" fill="#a93022"/><path d="M6.57 12.55L8.08 17.13L11.56 15.00L8.18 11.56Z" fill="#a93022"/><circle cx="9.82" cy="16.06" r="2.14" fill="#a93022"/><path d="M2.91 13.86L3.11 18.62L7.04 17.52L4.73 13.35Z" fill="#b4382c"/><circle cx="5.07" cy="18.07" r="2.14" fill="#b4382c"/><path d="M-2.23 13.98L-3.70 18.00L0.37 18.37L-0.35 14.16Z" fill="#a93022"/><circle cx="-1.67" cy="18.18" r="2.14" fill="#a93022"/><path d="M-7.11 12.25L-9.80 15.20L-6.14 17.01L-5.42 13.08Z" fill="#a93022"/><circle cx="-7.97" cy="16.11" r="2.14" fill="#a93022"/><path d="M-11.04 8.87L-15.07 11.08L-12.30 14.09L-9.76 10.26Z" fill="#a93022"/><circle cx="-13.69" cy="12.58" r="2.14" fill="#a93022"/><path d="M-13.17 5.21L-16.59 5.62L-14.83 9.31L-12.36 6.92Z" fill="#9c2a20"/><circle cx="-15.71" cy="7.47" r="2.14" fill="#9c2a20"/><path d="M-14.12 1.07L-17.60 0.45L-17.02 4.49L-13.85 2.93Z" fill="#a93022"/><circle cx="-17.31" cy="2.47" r="2.14" fill="#a93022"/><path d="M-13.41 -4.54L-16.17 -6.41L-17.22 -2.47L-13.90 -2.72Z" fill="#a93022"/><circle cx="-16.70" cy="-4.44" r="2.14" fill="#a93022"/><path d="M-11.23 -8.62L-13.47 -11.44L-15.74 -8.04L-12.28 -7.05Z" fill="#a93022"/><circle cx="-14.61" cy="-9.74" r="2.14" fill="#a93022"/><path d="M-9.33 -10.65L-11.95 -14.82L-14.84 -11.93L-10.66 -9.32Z" fill="#9c2a20"/><circle cx="-13.40" cy="-13.38" r="2.14" fill="#9c2a20"/><path d="M-3.80 -13.64L-4.16 -17.99L-8.01 -16.63L-5.58 -13.02Z" fill="#a93022"/><circle cx="-6.09" cy="-17.31" r="2.14" fill="#a93022"/><path d="M1.02 -14.12L2.14 -18.45L-1.94 -18.47L-0.86 -14.13Z" fill="#b4382c"/><circle cx="0.10" cy="-18.46" r="2.14" fill="#b4382c"/><path d="M3.84 -13.63L5.69 -17.09L1.69 -17.93L1.99 -14.02Z" fill="#a93022"/><circle cx="3.69" cy="-17.51" r="2.14" fill="#a93022"/><path d="M9.47 -10.53L12.55 -12.68L9.34 -15.20L7.99 -11.69Z" fill="#b4382c"/><circle cx="10.95" cy="-13.94" r="2.14" fill="#b4382c"/><path d="M11.40 -8.40L15.31 -10.25L12.68 -13.37L10.19 -9.83Z" fill="#a93022"/><circle cx="13.99" cy="-11.81" r="2.14" fill="#a93022"/><path d="M13.74 -3.43L18.23 -3.72L16.98 -7.61L13.16 -5.23Z" fill="#a93022"/><circle cx="17.60" cy="-5.67" r="2.14" fill="#a93022"/><circle r="15.70" fill="url(#vg5)"/><circle cx="-5.07" cy="12.81" r="0.79" fill="#d2d2d8" opacity=".75"/><circle cx="-2.16" cy="-6.18" r="0.79" fill="#d2d2d8" opacity=".75"/><circle cx="-1.02" cy="-3.49" r="0.79" fill="#c6c6cc" opacity=".75"/><circle cx="8.64" cy="-2.86" r="0.79" fill="#d2d2d8" opacity=".75"/><circle cx="13.42" cy="1.53" r="0.79" fill="#a6a6ae" opacity=".75"/><circle cx="-9.96" cy="9.79" r="0.79" fill="#d2d2d8" opacity=".75"/><circle cx="6.20" cy="1.87" r="0.79" fill="#7b7b84" opacity=".75"/><circle cx="5.54" cy="5.14" r="0.79" fill="#d2d2d8" opacity=".75"/><circle cx="-5.07" cy="7.52" r="0.79" fill="#666670" opacity=".75"/><circle cx="-0.06" cy="10.36" r="0.79" fill="#666670" opacity=".75"/><circle cx="-0.14" cy="-13.59" r="0.79" fill="#a6a6ae" opacity=".75"/><circle cx="14.41" cy="3.38" r="0.79" fill="#c6c6cc" opacity=".75"/><circle cx="2.81" cy="10.53" r="0.79" fill="#a6a6ae" opacity=".75"/><circle cx="7.73" cy="-4.37" r="0.79" fill="#9a8f92" opacity=".75"/><circle cx="-8.17" cy="-2.38" r="0.79" fill="#a6a6ae" opacity=".75"/><circle cx="-4.70" cy="12.77" r="0.79" fill="#9a8f92" opacity=".75"/><circle cx="7.50" cy="10.17" r="0.79" fill="#d2d2d8" opacity=".75"/><circle cx="1.77" cy="2.85" r="0.79" fill="#666670" opacity=".75"/><circle cx="-9.48" cy="-2.03" r="0.79" fill="#7b7b84" opacity=".75"/><circle cx="-0.53" cy="-8.91" r="0.79" fill="#a6a6ae" opacity=".75"/><circle cx="-9.50" cy="2.72" r="0.79" fill="#c6c6cc" opacity=".75"/><circle cx="12.06" cy="-1.60" r="0.79" fill="#d2d2d8" opacity=".75"/><circle cx="-3.50" cy="5.98" r="0.79" fill="#9a8f92" opacity=".75"/><circle cx="-5.10" cy="-2.17" r="0.79" fill="#d2d2d8" opacity=".75"/><circle cx="7.87" cy="6.23" r="0.79" fill="#7b7b84" opacity=".75"/><circle cx="9.21" cy="3.56" r="0.79" fill="#7b7b84" opacity=".75"/><circle cx="-14.56" cy="4.41" r="0.79" fill="#7b7b84" opacity=".75"/><circle cx="10.13" cy="-1.54" r="0.79" fill="#d2d2d8" opacity=".75"/><circle cx="-3.22" cy="-7.95" r="0.79" fill="#a6a6ae" opacity=".75"/><circle cx="-2.47" cy="9.35" r="0.79" fill="#7b7b84" opacity=".75"/><circle cx="10.49" cy="8.97" r="0.79" fill="#666670" opacity=".75"/><circle cx="11.67" cy="-3.01" r="0.79" fill="#d2d2d8" opacity=".75"/><circle cx="4.36" cy="-4.77" r="0.79" fill="#d2d2d8" opacity=".75"/><circle cx="-1.88" cy="13.33" r="0.79" fill="#666670" opacity=".75"/><circle cx="-8.69" cy="10.33" r="0.79" fill="#a6a6ae" opacity=".75"/><circle cx="-4.23" cy="-11.66" r="0.79" fill="#a6a6ae" opacity=".75"/><circle cx="-8.35" cy="9.67" r="0.79" fill="#a6a6ae" opacity=".75"/><circle cx="4.00" cy="-6.74" r="0.79" fill="#9a8f92" opacity=".75"/><circle cx="-3.16" cy="-14.55" r="0.79" fill="#a6a6ae" opacity=".75"/><circle cx="-6.84" cy="-9.37" r="0.79" fill="#c6c6cc" opacity=".75"/><circle cx="-13.22" cy="2.15" r="0.79" fill="#a6a6ae" opacity=".75"/><circle cx="-4.90" cy="-9.13" r="0.79" fill="#666670" opacity=".75"/><circle cx="-8.17" cy="-10.87" r="0.79" fill="#a6a6ae" opacity=".75"/><circle cx="-1.34" cy="8.85" r="0.79" fill="#d2d2d8" opacity=".75"/><circle cx="-8.22" cy="11.30" r="0.79" fill="#9a8f92" opacity=".75"/><circle cx="-8.73" cy="2.85" r="0.79" fill="#a6a6ae" opacity=".75"/><circle cx="-11.00" cy="-1.26" r="0.79" fill="#7b7b84" opacity=".75"/><circle cx="2.90" cy="8.69" r="0.79" fill="#d2d2d8" opacity=".75"/><circle cx="-0.88" cy="4.18" r="0.79" fill="#9a8f92" opacity=".75"/><circle cx="-0.78" cy="-6.26" r="0.79" fill="#666670" opacity=".75"/><circle cx="-14.65" cy="-1.52" r="0.79" fill="#a6a6ae" opacity=".75"/><circle cx="-9.55" cy="-9.40" r="0.79" fill="#9a8f92" opacity=".75"/><circle cx="-1.97" cy="15.06" r="0.79" fill="#7b7b84" opacity=".75"/><circle cx="5.42" cy="8.54" r="0.79" fill="#9a8f92" opacity=".75"/><circle cx="5.59" cy="12.03" r="0.79" fill="#7b7b84" opacity=".75"/><circle cx="-2.12" cy="-2.28" r="0.79" fill="#d2d2d8" opacity=".75"/><circle cx="6.15" cy="-0.79" r="0.79" fill="#7b7b84" opacity=".75"/><circle cx="11.49" cy="9.61" r="0.79" fill="#d2d2d8" opacity=".75"/><circle cx="1.00" cy="2.69" r="0.79" fill="#d2d2d8" opacity=".75"/><circle cx="-7.35" cy="9.97" r="0.79" fill="#c6c6cc" opacity=".75"/><circle cx="-6.26" cy="-3.98" r="0.79" fill="#a6a6ae" opacity=".75"/><circle cx="9.69" cy="0.04" r="0.79" fill="#a6a6ae" opacity=".75"/><circle cx="8.74" cy="-11.15" r="0.79" fill="#9a8f92" opacity=".75"/><circle cx="4.55" cy="-8.12" r="0.79" fill="#c6c6cc" opacity=".75"/><circle cx="-7.95" cy="-2.58" r="0.79" fill="#a6a6ae" opacity=".75"/><circle cx="-8.51" cy="-2.49" r="0.79" fill="#666670" opacity=".75"/><circle cx="-2.42" cy="8.70" r="0.79" fill="#7b7b84" opacity=".75"/><circle cx="-11.99" cy="6.68" r="0.79" fill="#9a8f92" opacity=".75"/><circle cx="-10.11" cy="-2.49" r="0.79" fill="#7b7b84" opacity=".75"/><circle cx="-9.42" cy="-6.48" r="0.79" fill="#7b7b84" opacity=".75"/><circle cx="11.64" cy="-2.37" r="0.79" fill="#a6a6ae" opacity=".75"/><circle cx="5.36" cy="-11.16" r="0.79" fill="#d2d2d8" opacity=".75"/><circle cx="8.92" cy="7.18" r="0.79" fill="#666670" opacity=".75"/><circle cx="-8.42" cy="-2.13" r="0.79" fill="#666670" opacity=".75"/><circle cx="-7.11" cy="7.03" r="0.79" fill="#7b7b84" opacity=".75"/><circle cx="-10.53" cy="0.44" r="0.79" fill="#9a8f92" opacity=".75"/><circle cx="-10.86" cy="10.23" r="0.79" fill="#7b7b84" opacity=".75"/><circle cx="-6.40" cy="-4.39" r="0.79" fill="#a6a6ae" opacity=".75"/><circle cx="-9.81" cy="0.23" r="0.79" fill="#a6a6ae" opacity=".75"/><circle cx="7.94" cy="-2.85" r="0.79" fill="#a6a6ae" opacity=".75"/><circle cx="1.46" cy="1.84" r="0.79" fill="#9a8f92" opacity=".75"/><circle cx="-7.32" cy="-7.02" r="0.79" fill="#a6a6ae" opacity=".75"/><circle cx="5.45" cy="1.40" r="0.79" fill="#d2d2d8" opacity=".75"/><circle cx="11.07" cy="0.92" r="0.79" fill="#a6a6ae" opacity=".75"/><circle cx="0.43" cy="10.47" r="0.79" fill="#c6c6cc" opacity=".75"/><circle cx="0.21" cy="7.87" r="0.79" fill="#7b7b84" opacity=".75"/><circle cx="-1.45" cy="-8.01" r="0.79" fill="#d2d2d8" opacity=".75"/><circle cx="-8.16" cy="-6.58" r="0.79" fill="#9a8f92" opacity=".75"/><circle cx="9.34" cy="-10.80" r="0.79" fill="#c6c6cc" opacity=".75"/><circle cx="5.38" cy="0.55" r="0.79" fill="#a6a6ae" opacity=".75"/><circle cx="-8.63" cy="-1.84" r="0.79" fill="#a6a6ae" opacity=".75"/><circle cx="-0.29" cy="-2.47" r="0.79" fill="#a6a6ae" opacity=".75"/><circle cx="-8.44" cy="10.07" r="0.79" fill="#666670" opacity=".75"/><circle cx="0.55" cy="0.60" r="0.79" fill="#666670" opacity=".75"/><circle cx="-14.01" cy="4.01" r="0.79" fill="#9a8f92" opacity=".75"/><circle cx="-1.76" cy="-0.52" r="0.79" fill="#d2d2d8" opacity=".75"/><circle cx="-10.46" cy="-7.09" r="0.79" fill="#9a8f92" opacity=".75"/><circle cx="-8.37" cy="-11.35" r="0.79" fill="#d2d2d8" opacity=".75"/><circle cx="-12.43" cy="1.91" r="0.79" fill="#9a8f92" opacity=".75"/><circle cx="2.74" cy="7.82" r="0.79" fill="#c6c6cc" opacity=".75"/><circle cx="-0.29" cy="0.82" r="0.79" fill="#d2d2d8" opacity=".75"/><circle cx="-10.66" cy="-6.05" r="0.79" fill="#d2d2d8" opacity=".75"/><circle cx="4.87" cy="-3.06" r="0.79" fill="#d2d2d8" opacity=".75"/><circle cx="-4.84" cy="-13.51" r="0.79" fill="#a6a6ae" opacity=".75"/><circle cx="-9.65" cy="-2.35" r="0.79" fill="#666670" opacity=".75"/><circle cx="1.51" cy="-3.68" r="0.79" fill="#7b7b84" opacity=".75"/><circle cx="-0.48" cy="4.42" r="0.79" fill="#c6c6cc" opacity=".75"/><circle cx="-1.26" cy="-2.08" r="0.79" fill="#9a8f92" opacity=".75"/><circle cx="-3.60" cy="1.71" r="0.79" fill="#d2d2d8" opacity=".75"/><circle cx="-1.01" cy="-3.21" r="0.79" fill="#c6c6cc" opacity=".75"/><circle cx="2.35" cy="12.00" r="0.79" fill="#c6c6cc" opacity=".75"/><circle cx="-1.31" cy="-5.43" r="0.79" fill="#a6a6ae" opacity=".75"/><circle cx="-2.76" cy="-9.69" r="0.79" fill="#7b7b84" opacity=".75"/><circle cx="-7.52" cy="-6.27" r="0.79" fill="#7b7b84" opacity=".75"/><circle cx="6.41" cy="2.88" r="0.79" fill="#666670" opacity=".75"/><circle cx="7.29" cy="5.89" r="0.79" fill="#c6c6cc" opacity=".75"/><circle cx="-2.15" cy="11.30" r="0.79" fill="#c6c6cc" opacity=".75"/><circle cx="-0.69" cy="-14.25" r="0.79" fill="#7b7b84" opacity=".75"/><circle cx="4.59" cy="0.29" r="0.79" fill="#9a8f92" opacity=".75"/><circle cx="-8.61" cy="-6.27" r="0.79" fill="#9a8f92" opacity=".75"/><circle cx="-2.53" cy="2.55" r="0.79" fill="#9a8f92" opacity=".75"/><circle cx="-3.18" cy="11.03" r="0.79" fill="#9a8f92" opacity=".75"/><circle cx="-14.51" cy="-0.53" r="0.79" fill="#666670" opacity=".75"/><circle cx="-6.80" cy="-2.20" r="0.79" fill="#c6c6cc" opacity=".75"/><circle cx="-7.27" cy="-2.45" r="0.79" fill="#a6a6ae" opacity=".75"/><circle cx="-5.54" cy="-0.59" r="0.79" fill="#7b7b84" opacity=".75"/><circle cx="6.71" cy="-7.75" r="0.79" fill="#d2d2d8" opacity=".75"/><circle cx="5.52" cy="11.61" r="0.79" fill="#9a8f92" opacity=".75"/><circle cx="-6.27" cy="9.67" r="0.79" fill="#c6c6cc" opacity=".75"/><circle cx="4.52" cy="2.91" r="0.79" fill="#666670" opacity=".75"/><circle cx="-9.10" cy="2.74" r="0.79" fill="#d2d2d8" opacity=".75"/><circle cx="-8.59" cy="1.06" r="0.79" fill="#666670" opacity=".75"/><circle cx="12.74" cy="2.39" r="0.79" fill="#c6c6cc" opacity=".75"/><circle cx="8.56" cy="-12.06" r="0.79" fill="#d2d2d8" opacity=".75"/><circle cx="-3.02" cy="-6.53" r="0.79" fill="#c6c6cc" opacity=".75"/><circle cx="12.56" cy="7.30" r="0.79" fill="#d2d2d8" opacity=".75"/><circle cx="2.44" cy="-5.14" r="0.79" fill="#666670" opacity=".75"/><circle cx="-9.89" cy="9.79" r="0.79" fill="#a6a6ae" opacity=".75"/><circle cx="-5.96" cy="10.33" r="0.79" fill="#a6a6ae" opacity=".75"/><circle cx="2.67" cy="-8.97" r="0.79" fill="#9a8f92" opacity=".75"/><circle cx="5.98" cy="-10.70" r="0.79" fill="#9a8f92" opacity=".75"/><circle cx="-12.83" cy="5.71" r="0.79" fill="#666670" opacity=".75"/><circle cx="14.77" cy="3.43" r="0.79" fill="#7b7b84" opacity=".75"/><circle cx="-0.59" cy="-9.55" r="0.79" fill="#c6c6cc" opacity=".75"/><circle cx="6.39" cy="1.52" r="0.79" fill="#7b7b84" opacity=".75"/><circle cx="13.92" cy="3.52" r="0.79" fill="#d2d2d8" opacity=".75"/><circle cx="-4.76" cy="-7.62" r="0.79" fill="#d2d2d8" opacity=".75"/><circle cx="-14.11" cy="2.67" r="0.79" fill="#666670" opacity=".75"/><circle cx="7.63" cy="-4.09" r="0.79" fill="#d2d2d8" opacity=".75"/><circle cx="4.85" cy="3.51" r="0.79" fill="#7b7b84" opacity=".75"/><circle cx="12.79" cy="6.14" r="0.79" fill="#d2d2d8" opacity=".75"/><circle cx="4.43" cy="6.27" r="0.79" fill="#a6a6ae" opacity=".75"/><circle cx="5.50" cy="-11.99" r="0.79" fill="#9a8f92" opacity=".75"/><circle cx="0.98" cy="10.52" r="0.79" fill="#c6c6cc" opacity=".75"/><circle cx="-7.37" cy="10.95" r="0.79" fill="#a6a6ae" opacity=".75"/><circle cx="11.68" cy="-4.80" r="0.79" fill="#9a8f92" opacity=".75"/><circle cx="-13.51" cy="3.77" r="0.79" fill="#7b7b84" opacity=".75"/><circle cx="9.18" cy="8.40" r="0.79" fill="#a6a6ae" opacity=".75"/><circle cx="-7.15" cy="2.13" r="0.79" fill="#7b7b84" opacity=".75"/><circle cx="12.58" cy="2.69" r="0.79" fill="#666670" opacity=".75"/><circle cx="0.52" cy="4.22" r="0.79" fill="#d2d2d8" opacity=".75"/><circle cx="10.88" cy="-6.74" r="0.79" fill="#9a8f92" opacity=".75"/><circle cx="-3.95" cy="9.64" r="0.79" fill="#a6a6ae" opacity=".75"/><circle cx="13.85" cy="6.19" r="0.79" fill="#d2d2d8" opacity=".75"/><circle cx="3.87" cy="6.39" r="0.79" fill="#9a8f92" opacity=".75"/><circle cx="0.82" cy="3.08" r="0.79" fill="#666670" opacity=".75"/><circle cx="-13.63" cy="6.35" r="0.79" fill="#c6c6cc" opacity=".75"/><circle cx="-9.95" cy="2.43" r="0.79" fill="#9a8f92" opacity=".75"/><circle cx="-2.73" cy="1.73" r="0.79" fill="#666670" opacity=".75"/><circle cx="7.13" cy="-11.96" r="0.79" fill="#666670" opacity=".75"/><circle cx="-2.74" cy="3.77" r="0.79" fill="#c6c6cc" opacity=".75"/><circle cx="1.11" cy="13.60" r="0.79" fill="#c6c6cc" opacity=".75"/><circle cx="3.25" cy="-1.39" r="0.79" fill="#7b7b84" opacity=".75"/><circle cx="-6.62" cy="-8.45" r="0.79" fill="#c6c6cc" opacity=".75"/><circle cx="13.27" cy="4.12" r="0.79" fill="#d2d2d8" opacity=".75"/><circle cx="-1.19" cy="3.24" r="0.79" fill="#c6c6cc" opacity=".75"/><circle cx="6.39" cy="-2.07" r="0.79" fill="#9a8f92" opacity=".75"/><circle cx="-9.64" cy="-0.52" r="0.79" fill="#666670" opacity=".75"/><circle cx="1.50" cy="14.58" r="0.79" fill="#c6c6cc" opacity=".75"/><circle cx="12.92" cy="7.84" r="0.79" fill="#7b7b84" opacity=".75"/><circle cx="-11.49" cy="-8.16" r="0.79" fill="#7b7b84" opacity=".75"/><circle cx="-7.15" cy="-7.15" r="0.79" fill="#a6a6ae" opacity=".75"/><circle cx="-11.47" cy="0.97" r="0.79" fill="#d2d2d8" opacity=".75"/><circle cx="-5.49" cy="-0.78" r="0.79" fill="#c6c6cc" opacity=".75"/><circle cx="7.21" cy="-4.39" r="0.79" fill="#d2d2d8" opacity=".75"/><circle cx="11.82" cy="-9.59" r="0.79" fill="#666670" opacity=".75"/><circle cx="6.35" cy="5.65" r="0.79" fill="#c6c6cc" opacity=".75"/><circle cx="1.46" cy="-7.68" r="0.79" fill="#d2d2d8" opacity=".75"/><circle cx="-2.11" cy="5.06" r="0.79" fill="#c6c6cc" opacity=".75"/><circle cx="-12.51" cy="2.26" r="0.79" fill="#d2d2d8" opacity=".75"/><circle cx="12.17" cy="-2.50" r="0.79" fill="#a6a6ae" opacity=".75"/><circle cx="11.80" cy="4.80" r="0.79" fill="#c6c6cc" opacity=".75"/><circle cx="-3.90" cy="-13.01" r="0.79" fill="#a6a6ae" opacity=".75"/><circle cx="3.07" cy="-2.69" r="0.79" fill="#a6a6ae" opacity=".75"/><circle cx="-9.72" cy="9.15" r="0.79" fill="#c6c6cc" opacity=".75"/><circle cx="9.78" cy="-7.48" r="0.79" fill="#7b7b84" opacity=".75"/><circle cx="-9.03" cy="-4.58" r="0.79" fill="#9a8f92" opacity=".75"/><circle cx="-8.32" cy="-12.33" r="0.79" fill="#9a8f92" opacity=".75"/><circle cx="9.52" cy="2.91" r="0.79" fill="#c6c6cc" opacity=".75"/><circle cx="3.58" cy="-8.71" r="0.79" fill="#7b7b84" opacity=".75"/><circle cx="-3.65" cy="7.60" r="0.79" fill="#7b7b84" opacity=".75"/><circle cx="-0.99" cy="12.48" r="0.79" fill="#a6a6ae" opacity=".75"/><circle cx="10.95" cy="2.38" r="0.79" fill="#9a8f92" opacity=".75"/><circle cx="-2.36" cy="-0.89" r="0.79" fill="#c6c6cc" opacity=".75"/><circle cx="13.59" cy="-2.63" r="0.79" fill="#d2d2d8" opacity=".75"/><circle cx="9.44" cy="-11.44" r="0.79" fill="#666670" opacity=".75"/><circle cx="10.99" cy="1.15" r="0.79" fill="#7b7b84" opacity=".75"/><circle cx="-5.68" cy="6.66" r="0.79" fill="#c6c6cc" opacity=".75"/><circle cx="6.21" cy="10.24" r="0.79" fill="#7b7b84" opacity=".75"/><circle cx="-0.68" cy="-4.65" r="0.79" fill="#666670" opacity=".75"/><circle cx="-9.51" cy="-7.46" r="0.79" fill="#7b7b84" opacity=".75"/><circle cx="-13.91" cy="4.89" r="0.79" fill="#d2d2d8" opacity=".75"/><circle cx="6.31" cy="5.80" r="0.79" fill="#7b7b84" opacity=".75"/><circle cx="-9.73" cy="2.43" r="0.79" fill="#d2d2d8" opacity=".75"/><circle cx="11.87" cy="3.73" r="0.79" fill="#7b7b84" opacity=".75"/><circle cx="-14.68" cy="-3.05" r="0.79" fill="#666670" opacity=".75"/><circle cx="5.42" cy="0.06" r="0.79" fill="#d2d2d8" opacity=".75"/><circle cx="-2.73" cy="-6.37" r="0.79" fill="#c6c6cc" opacity=".75"/><circle cx="11.32" cy="2.37" r="0.79" fill="#d2d2d8" opacity=".75"/><circle cx="-2.52" cy="-8.70" r="0.79" fill="#d2d2d8" opacity=".75"/><circle cx="1.72" cy="7.83" r="0.79" fill="#7b7b84" opacity=".75"/><circle cx="-3.59" cy="10.33" r="0.79" fill="#7b7b84" opacity=".75"/><circle cx="-9.16" cy="10.17" r="0.79" fill="#9a8f92" opacity=".75"/><circle cx="7.53" cy="-11.84" r="0.79" fill="#666670" opacity=".75"/><circle cx="-8.99" cy="0.32" r="0.79" fill="#7b7b84" opacity=".75"/><circle cx="5.23" cy="-9.28" r="0.79" fill="#c6c6cc" opacity=".75"/><circle cx="7.97" cy="5.33" r="0.79" fill="#9a8f92" opacity=".75"/><circle cx="-2.87" cy="14.32" r="0.79" fill="#a6a6ae" opacity=".75"/><circle cx="-10.33" cy="1.49" r="0.79" fill="#666670" opacity=".75"/><circle cx="-9.74" cy="-9.51" r="0.79" fill="#d2d2d8" opacity=".75"/><circle cx="-1.84" cy="-4.54" r="0.79" fill="#666670" opacity=".75"/><circle cx="-5.60" cy="-3.39" r="0.79" fill="#d2d2d8" opacity=".75"/><circle cx="12.41" cy="1.74" r="0.79" fill="#666670" opacity=".75"/><circle cx="-3.58" cy="8.71" r="0.79" fill="#d2d2d8" opacity=".75"/><circle cx="-12.13" cy="-3.58" r="0.79" fill="#d2d2d8" opacity=".75"/><circle cx="13.66" cy="-1.52" r="0.79" fill="#9a8f92" opacity=".75"/><circle cx="-3.52" cy="-1.33" r="0.79" fill="#7b7b84" opacity=".75"/><circle cx="2.76" cy="-8.74" r="0.79" fill="#666670" opacity=".75"/><circle cx="13.25" cy="1.69" r="0.79" fill="#7b7b84" opacity=".75"/><circle cx="-0.90" cy="4.15" r="0.79" fill="#c6c6cc" opacity=".75"/><circle cx="1.77" cy="-11.76" r="0.79" fill="#9a8f92" opacity=".75"/><circle cx="-12.80" cy="7.78" r="0.79" fill="#c6c6cc" opacity=".75"/><circle cx="-1.98" cy="12.73" r="0.79" fill="#c6c6cc" opacity=".75"/><circle cx="4.40" cy="1.06" r="0.79" fill="#a6a6ae" opacity=".75"/><circle cx="10.08" cy="-7.60" r="0.79" fill="#9a8f92" opacity=".75"/><circle cx="-8.98" cy="-7.04" r="0.79" fill="#d2d2d8" opacity=".75"/><circle cx="-14.33" cy="-1.51" r="0.79" fill="#7b7b84" opacity=".75"/><circle cx="-7.37" cy="11.30" r="0.79" fill="#d2d2d8" opacity=".75"/><circle cx="-0.65" cy="0.51" r="0.79" fill="#d2d2d8" opacity=".75"/><circle cx="-9.50" cy="9.15" r="0.79" fill="#666670" opacity=".75"/><circle cx="11.72" cy="-8.57" r="0.79" fill="#666670" opacity=".75"/><circle cx="-3.76" cy="7.81" r="0.79" fill="#9a8f92" opacity=".75"/><circle cx="9.69" cy="-8.09" r="0.79" fill="#a6a6ae" opacity=".75"/><circle cx="0.03" cy="4.81" r="0.79" fill="#a6a6ae" opacity=".75"/><circle cx="-2.69" cy="7.40" r="0.79" fill="#666670" opacity=".75"/><circle cx="13.10" cy="6.98" r="0.79" fill="#c6c6cc" opacity=".75"/><circle cx="-8.95" cy="-9.87" r="0.79" fill="#7b7b84" opacity=".75"/><circle cx="-6.41" cy="-9.54" r="0.79" fill="#9a8f92" opacity=".75"/><circle cx="6.89" cy="-12.49" r="0.79" fill="#9a8f92" opacity=".75"/><circle cx="-6.10" cy="4.03" r="0.79" fill="#d2d2d8" opacity=".75"/><circle cx="-14.24" cy="-2.60" r="0.79" fill="#a6a6ae" opacity=".75"/><circle cx="-3.85" cy="2.17" r="0.79" fill="#a6a6ae" opacity=".75"/><circle cx="1.02" cy="2.45" r="0.79" fill="#c6c6cc" opacity=".75"/><circle cx="-3.21" cy="10.88" r="0.79" fill="#666670" opacity=".75"/><circle cx="2.68" cy="6.08" r="0.79" fill="#666670" opacity=".75"/><circle cx="10.81" cy="8.09" r="0.79" fill="#a6a6ae" opacity=".75"/><circle cx="-0.50" cy="-3.74" r="0.79" fill="#d2d2d8" opacity=".75"/><circle cx="7.11" cy="8.35" r="0.79" fill="#c6c6cc" opacity=".75"/><circle cx="-5.85" cy="12.76" r="0.79" fill="#9a8f92" opacity=".75"/><circle cx="-10.79" cy="9.62" r="0.79" fill="#9a8f92" opacity=".75"/><circle cx="-10.18" cy="-9.01" r="0.79" fill="#c6c6cc" opacity=".75"/><circle cx="0.31" cy="1.26" r="1.96" fill="#b8392a"/><circle cx="0.63" cy="0.94" r="0.79" fill="#d8643a"/><circle cx="6.59" cy="-5.97" r="1.96" fill="#b8392a"/><circle cx="6.91" cy="-6.28" r="0.79" fill="#d8643a"/><circle cx="-6.59" cy="-5.02" r="1.96" fill="#b8392a"/><circle cx="-6.28" cy="-5.34" r="0.79" fill="#d8643a"/><circle cx="7.85" cy="4.71" r="1.96" fill="#b8392a"/><circle cx="8.16" cy="4.40" r="0.79" fill="#d8643a"/><circle cx="-7.85" cy="3.45" r="1.96" fill="#b8392a"/><circle cx="-7.54" cy="3.14" r="0.79" fill="#d8643a"/><circle cx="-0.31" cy="9.73" r="1.96" fill="#b8392a"/><circle cx="0.00" cy="9.42" r="0.79" fill="#d8643a"/><circle cx="0.79" cy="-9.73" r="1.96" fill="#b8392a"/><circle cx="1.10" cy="-10.05" r="0.79" fill="#d8643a"/><circle cx="11.62" cy="-1.26" r="1.96" fill="#b8392a"/><circle cx="11.93" cy="-1.57" r="0.79" fill="#d8643a"/><circle cx="-11.93" cy="-0.63" r="1.96" fill="#b8392a"/><circle cx="-11.62" cy="-0.94" r="0.79" fill="#d8643a"/><circle cx="5.02" cy="11.30" r="1.96" fill="#b8392a"/><circle cx="5.34" cy="10.99" r="0.79" fill="#d8643a"/><circle cx="-5.65" cy="10.68" r="1.96" fill="#b8392a"/><circle cx="-5.34" cy="10.36" r="0.79" fill="#d8643a"/><circle cx="-3.14" cy="-0.31" r="1.96" fill="#b8392a"/><circle cx="-2.83" cy="-0.63" r="0.79" fill="#d8643a"/></svg>
<svg class="a" style="left:380px;top:180px" width="80" height="55" viewBox="0 0 697 479" fill="none" stroke-linecap="round" stroke-linejoin="round"><path d="M176 172 L92 112 M168 166 L122 112" stroke="#5e7a5e" stroke-width="4"/><path d="M292 118 L308 66 L322 124 M338 128 L386 76 L392 138 M392 150 L410 124 L418 188" stroke="#1c1f1c" stroke-width="10"/><path d="M256 122 Q380 130 492 212 Q470 232 400 204 Q320 180 256 150Z" fill="#4d4f4d" stroke="none"/><path d="M300 150 Q400 170 470 240 Q440 250 380 214Z" fill="#5e605e" stroke="none"/><path d="M292 172 Q380 196 462 262 Q450 284 420 268 Q350 232 286 204Z" fill="#1c1f1c" stroke="none"/><path d="M368 202 l-8 22" stroke="#f2f2f2" stroke-width="7"/><path d="M392 216 l-8 22" stroke="#f2f2f2" stroke-width="7"/><path d="M416 230 l-8 22" stroke="#f2f2f2" stroke-width="7"/><path d="M440 244 l-8 22" stroke="#f2f2f2" stroke-width="7"/><ellipse cx="246" cy="146" rx="52" ry="36" fill="#1c1f1c" stroke="none" transform="rotate(12 246 146)"/><path d="M226 142 l6 22" stroke="#ececec" stroke-width="6"/><path d="M246 144 l6 30" stroke="#ececec" stroke-width="6"/><path d="M266 150 l6 24" stroke="#ececec" stroke-width="6"/><path d="M236 120 l6 10" stroke="#ececec" stroke-width="6"/><path d="M250 190 Q280 214 310 200" stroke="#1c1f1c" stroke-width="22"/><circle cx="196" cy="178" r="18" fill="#1c1f1c" stroke="none"/><circle cx="180" cy="184" r="13" fill="#a53a1c" stroke="none"/><path d="M170 200 L48 298" stroke="#1c1f1c" stroke-width="8"/><path d="M176 204 L150 216" stroke="#1c1f1c" stroke-width="7"/><path d="M216 196 Q214 250 200 292 Q180 352 104 386" stroke="#1c1f1c" stroke-width="6"/><path d="M238 204 Q236 256 216 300 Q200 326 176 330" stroke="#1c1f1c" stroke-width="6"/><path d="M302 206 Q306 280 326 340 Q350 400 388 426" stroke="#1c1f1c" stroke-width="6"/><path d="M342 216 Q356 290 398 346 Q430 384 478 402" stroke="#1c1f1c" stroke-width="6"/><path d="M432 282 Q470 340 520 372 Q560 386 604 362" stroke="#1c1f1c" stroke-width="6"/><path d="M452 270 Q490 284 516 260" stroke="#1c1f1c" stroke-width="5"/></svg>
<div class="t" id="t0" style="left:243.7px;top:16.45px;font-size:13.2px;transform:scaleX(1.0656);transform-origin:left top;">Ministry of Health and Population</div>
<div class="t" id="t1" style="left:253.3px;top:37.55px;font-size:13.2px;transform:scaleX(1.0821);transform-origin:left top;">Department of Health Services</div>
<div class="t" id="t2" style="left:165.3px;top:59.38px;font-size:16.6px;transform:scaleX(1.1178);transform-origin:left top;">Epidemiology and Disease Control Division</div>
<div class="t" id="t3" style="left:121.2px;top:96.76px;font-size:23.8px;color:#f2f2f2;transform:scaleX(1.0137);transform-origin:left top;">Situation Report on COVID-19 and Dengue</div>
<div class="t" id="t4" style="left:616.8px;top:116.37px;font-size:10.2px;color:#f4f4f4;font-style:italic;transform:scaleX(1.0985);transform-origin:left top;">01 Jan &ndash; 02 Nov 2025</div>
<div class="t" id="t5" style="left:626.7px;top:15.84px;font-size:13px;color:#141414;transform:scaleX(0.9797);transform-origin:left top;">SitRep No.</div>
<div class="t" id="t6" style="left:642px;top:36.75px;font-size:21.6px;color:#c80000;transform:scaleX(1.0546);transform-origin:left top;">106</div>
<div class="t" id="t7" style="left:614.6px;top:62.03px;font-size:11.9px;color:#26456e;transform:scaleX(1.0662);transform-origin:left top;">16 Kartik 2082</div>
<div class="t" id="t8" style="left:605.2px;top:80.98px;font-size:11.4px;color:#26456e;transform:scaleX(1.0295);transform-origin:left top;">02 November 2025</div>
<div class="t" id="t9" style="left:13.2px;top:153.16px;font-size:16.4px;color:#0a0a0a;transform:scaleX(0.9126);transform-origin:left top;">COVID-19</div>
<div class="t" id="t10" style="left:386.75px;top:151.84px;font-size:16.2px;color:#0a0a0a;transform:scaleX(0.9145);transform-origin:left top;">Dengue</div>
<div class="t" id="t11" style="left:102px;top:157.14px;font-size:6.7px;color:#0a0807;transform:scaleX(0.9461);transform-origin:left top;">Cumulative Case</div>
<div class="t" id="t12" style="left:113.25px;top:169.80px;font-size:16.8px;color:#c00000;transform:scaleX(1.0179);transform-origin:left top;">507</div>
<div class="t" id="t13" style="left:187px;top:157.74px;font-size:6.7px;color:#0a0807;transform:scaleX(0.9119);transform-origin:left top;">Cases in Last 7 days</div>
<div class="t" id="t14" style="left:16.75px;width:400px;text-align:center;top:169.80px;font-size:16.8px;color:#c00000;"><span>3</span></div>
<div class="t" id="t15" style="left:271.7px;top:157.74px;font-size:6.7px;color:#0a0807;transform:scaleX(0.9203);transform-origin:left top;">Cases in Last 24 hours</div>
<div class="t" id="t16" style="left:104.80000000000001px;width:400px;text-align:center;top:169.80px;font-size:16.8px;color:#c00000;"><span>2</span></div>
<div class="t" id="t17" style="left:149.5px;top:209.24px;font-size:6.7px;color:#0a0807;transform:scaleX(0.9829);transform-origin:left top;">Verified Deaths</div>
<div class="t" id="t18" style="left:-26.75px;width:400px;text-align:center;top:222.80px;font-size:16.8px;color:#c00000;"><span>3</span></div>
<div class="t" id="t19" style="left:232.1px;top:204.04px;font-size:6.7px;color:#0a0807;transform:scaleX(0.9702);transform-origin:left top;">No. of districts with</div>
<div class="t" id="t20" style="left:239.7px;top:212.64px;font-size:6.7px;color:#0a0807;transform:scaleX(0.9455);transform-origin:left top;">cases reported</div>
<div class="t" id="t21" style="left:252.7px;top:224.00px;font-size:16.8px;color:#c00000;transform:scaleX(1.0497);transform-origin:left top;">51</div>
<div class="t" id="t22" style="left:467px;top:155.69px;font-size:6.7px;color:#0a0807;transform:scaleX(0.9461);transform-origin:left top;">Cumulative Case</div>
<div class="t" id="t23" style="left:473px;top:167.80px;font-size:16.8px;color:#c00000;transform:scaleX(1.0310);transform-origin:left top;">7075</div>
<div class="t" id="t24" style="left:554.5px;top:155.69px;font-size:6.7px;color:#0a0807;transform:scaleX(0.9162);transform-origin:left top;">Cases in last 7 days</div>
<div class="t" id="t25" style="left:570px;top:170.80px;font-size:16.8px;color:#c00000;transform:scaleX(1.0268);transform-origin:left top;">174</div>
<div class="t" id="t26" style="left:640.75px;top:155.69px;font-size:6.7px;color:#0a0807;transform:scaleX(0.9204);transform-origin:left top;">Cases in last 24 hours</div>
<div class="t" id="t27" style="left:664px;top:168.30px;font-size:16.8px;color:#c00000;transform:scaleX(1.0042);transform-origin:left top;">24</div>
<div class="t" id="t28" style="left:518px;top:206.94px;font-size:6.7px;color:#0a0807;">Verified Deaths</div>
<div class="t" id="t29" style="left:341.75px;width:400px;text-align:center;top:221.55px;font-size:16.8px;color:#c00000;"><span>6</span></div>
<div class="t" id="t30" style="left:600.75px;top:203.64px;font-size:6.7px;color:#0a0807;transform:scaleX(0.9670);transform-origin:left top;">No. of districts with</div>
<div class="t" id="t31" style="left:608.5px;top:211.44px;font-size:6.7px;color:#0a0807;transform:scaleX(0.9455);transform-origin:left top;">cases reported</div>
<div class="t" id="t32" style="left:622px;top:221.55px;font-size:16.8px;color:#c00000;transform:scaleX(1.0042);transform-origin:left top;">75</div>
<div class="t" id="t33" style="left:69.5px;top:271.08px;font-size:14px;color:#111;transform:scaleX(0.9953);transform-origin:left top;">Distribution of <span style="color:#c00000">COVID-19 cases</span> by Epiweek, 2025</div>
<div class="t" id="t34" style="right:676.9px;top:420.29px;font-size:7.8px;color:#262626;">0</div>
<div class="t" id="t35" style="right:676.9px;top:401.83px;font-size:7.8px;color:#262626;">10</div>
<div class="t" id="t36" style="right:676.9px;top:383.37px;font-size:7.8px;color:#262626;">20</div>
<div class="t" id="t37" style="right:676.9px;top:364.91px;font-size:7.8px;color:#262626;">30</div>
<div class="t" id="t38" style="right:676.9px;top:346.45px;font-size:7.8px;color:#262626;">40</div>
<div class="t" id="t39" style="right:676.9px;top:327.99px;font-size:7.8px;color:#262626;">50</div>
<div class="t" id="t40" style="right:676.9px;top:309.53px;font-size:7.8px;color:#262626;">60</div>
<div class="t" id="t41" style="right:676.9px;top:291.07px;font-size:7.8px;color:#262626;">70</div>
<div class="t" id="t42" style="left:-157.8px;width:400px;text-align:center;top:356.18px;font-size:8.2px;color:#262626;transform:rotate(-90deg);transform-origin:center 4.5px;"><span>Number of Cases</span></div>
<div class="t" id="t43" style="left:232.3px;top:439.62px;font-size:7.6px;color:#262626;transform:scaleX(1.0647);transform-origin:left top;">Epi Week</div>
<div class="t" id="t44" style="left:99px;top:451.30px;font-size:7.4px;color:#262626;transform:scaleX(1.1022);transform-origin:left top;">COVID-19 cases</div>
<div class="t" id="t45" style="left:-128.8375px;width:400px;text-align:center;top:429.84px;font-size:4.6px;color:#1a1a1a;"><span>1</span></div>
<div class="t" id="t46" style="left:-128.8375px;width:400px;text-align:center;top:408.26px;font-size:5.8px;color:#1a1a1a;"><span>3</span></div>
<div class="t" id="t47" style="left:-120.5125px;width:400px;text-align:center;top:429.84px;font-size:4.6px;color:#1a1a1a;"><span>2</span></div>
<div class="t" id="t48" style="left:-120.5125px;width:400px;text-align:center;top:404.57px;font-size:5.8px;color:#1a1a1a;"><span>5</span></div>
<div class="t" id="t49" style="left:-112.1875px;width:400px;text-align:center;top:429.84px;font-size:4.6px;color:#1a1a1a;"><span>3</span></div>
<div class="t" id="t50" style="left:-112.1875px;width:400px;text-align:center;top:408.26px;font-size:5.8px;color:#1a1a1a;"><span>3</span></div>
<div class="t" id="t51" style="left:-103.8625px;width:400px;text-align:center;top:429.84px;font-size:4.6px;color:#1a1a1a;"><span>4</span></div>
<div class="t" id="t52" style="left:-103.8625px;width:400px;text-align:center;top:404.57px;font-size:5.8px;color:#1a1a1a;"><span>5</span></div>
<div class="t" id="t53" style="left:-95.5375px;width:400px;text-align:center;top:429.84px;font-size:4.6px;color:#1a1a1a;"><span>5</span></div>
<div class="t" id="t54" style="left:-95.5375px;width:400px;text-align:center;top:395.34px;font-size:5.8px;color:#1a1a1a;"><span>10</span></div>
<div class="t" id="t55" style="left:-87.21249999999999px;width:400px;text-align:center;top:429.84px;font-size:4.6px;color:#1a1a1a;"><span>6</span></div>
<div class="t" id="t56" style="left:-87.21249999999999px;width:400px;text-align:center;top:400.88px;font-size:5.8px;color:#1a1a1a;"><span>7</span></div>
<div class="t" id="t57" style="left:-78.88749999999999px;width:400px;text-align:center;top:429.84px;font-size:4.6px;color:#1a1a1a;"><span>7</span></div>
<div class="t" id="t58" style="left:-78.88749999999999px;width:400px;text-align:center;top:400.88px;font-size:5.8px;color:#1a1a1a;"><span>7</span></div>
<div class="t" id="t59" style="left:-70.5625px;width:400px;text-align:center;top:429.84px;font-size:4.6px;color:#1a1a1a;"><span>8</span></div>
<div class="t" id="t60" style="left:-70.5625px;width:400px;text-align:center;top:400.88px;font-size:5.8px;color:#1a1a1a;"><span>7</span></div>
<div class="t" id="t61" style="left:-62.23750000000001px;width:400px;text-align:center;top:429.84px;font-size:4.6px;color:#1a1a1a;"><span>9</span></div>
<div class="t" id="t62" style="left:-62.23750000000001px;width:400px;text-align:center;top:404.57px;font-size:5.8px;color:#1a1a1a;"><span>5</span></div>
<div class="t" id="t63" style="left:-53.912499999999994px;width:400px;text-align:center;top:429.84px;font-size:4.6px;color:#1a1a1a;"><span>10</span></div>
<div class="t" id="t64" style="left:-53.912499999999994px;width:400px;text-align:center;top:397.19px;font-size:5.8px;color:#1a1a1a;"><span>9</span></div>
<div class="t" id="t65" style="left:-45.58749999999998px;width:400px;text-align:center;top:429.84px;font-size:4.6px;color:#1a1a1a;"><span>11</span></div>
<div class="t" id="t66" style="left:-45.58749999999998px;width:400px;text-align:center;top:406.42px;font-size:5.8px;color:#1a1a1a;"><span>4</span></div>
<div class="t" id="t67" style="left:-37.26249999999999px;width:400px;text-align:center;top:429.84px;font-size:4.6px;color:#1a1a1a;"><span>12</span></div>
<div class="t" id="t68" style="left:-37.26249999999999px;width:400px;text-align:center;top:411.95px;font-size:5.8px;color:#1a1a1a;"><span>1</span></div>
<div class="t" id="t69" style="left:-28.9375px;width:400px;text-align:center;top:429.84px;font-size:4.6px;color:#1a1a1a;"><span>13</span></div>
<div class="t" id="t70" style="left:-28.9375px;width:400px;text-align:center;top:406.42px;font-size:5.8px;color:#1a1a1a;"><span>4</span></div>
<div class="t" id="t71" style="left:-20.612499999999983px;width:400px;text-align:center;top:429.84px;font-size:4.6px;color:#1a1a1a;"><span>14</span></div>
<div class="t" id="t72" style="left:-20.612499999999983px;width:400px;text-align:center;top:404.57px;font-size:5.8px;color:#1a1a1a;"><span>5</span></div>
<div class="t" id="t73" style="left:-12.287499999999966px;width:400px;text-align:center;top:429.84px;font-size:4.6px;color:#1a1a1a;"><span>15</span></div>
<div class="t" id="t74" style="left:-12.287499999999966px;width:400px;text-align:center;top:408.26px;font-size:5.8px;color:#1a1a1a;"><span>3</span></div>
<div class="t" id="t75" style="left:-3.9624999999999773px;width:400px;text-align:center;top:429.84px;font-size:4.6px;color:#1a1a1a;"><span>16</span></div>
<div class="t" id="t76" style="left:-3.9624999999999773px;width:400px;text-align:center;top:410.11px;font-size:5.8px;color:#1a1a1a;"><span>2</span></div>
<div class="t" id="t77" style="left:4.362500000000011px;width:400px;text-align:center;top:429.84px;font-size:4.6px;color:#1a1a1a;"><span>17</span></div>
<div class="t" id="t78" style="left:4.362500000000011px;width:400px;text-align:center;top:410.11px;font-size:5.8px;color:#1a1a1a;"><span>2</span></div>
<div class="t" id="t79" style="left:12.687500000000028px;width:400px;text-align:center;top:429.84px;font-size:4.6px;color:#1a1a1a;"><span>18</span></div>
<div class="t" id="t80" style="left:12.687500000000028px;width:400px;text-align:center;top:411.95px;font-size:5.8px;color:#1a1a1a;"><span>1</span></div>
<div class="t" id="t81" style="left:21.012500000000017px;width:400px;text-align:center;top:429.84px;font-size:4.6px;color:#1a1a1a;"><span>19</span></div>
<div class="t" id="t82" style="left:21.012500000000017px;width:400px;text-align:center;top:411.95px;font-size:5.8px;color:#1a1a1a;"><span>1</span></div>
<div class="t" id="t83" style="left:29.337500000000034px;width:400px;text-align:center;top:429.84px;font-size:4.6px;color:#1a1a1a;"><span>20</span></div>
<div class="t" id="t84" style="left:29.337500000000034px;width:400px;text-align:center;top:402.72px;font-size:5.8px;color:#1a1a1a;"><span>6</span></div>
<div class="t" id="t85" style="left:37.66250000000002px;width:400px;text-align:center;top:429.84px;font-size:4.6px;color:#1a1a1a;"><span>21</span></div>
<div class="t" id="t86" style="left:37.66250000000002px;width:400px;text-align:center;top:411.95px;font-size:5.8px;color:#1a1a1a;"><span>1</span></div>
<div class="t" id="t87" style="left:45.98750000000001px;width:400px;text-align:center;top:429.84px;font-size:4.6px;color:#1a1a1a;"><span>22</span></div>
<div class="t" id="t88" style="left:45.98750000000001px;width:400px;text-align:center;top:404.57px;font-size:5.8px;color:#1a1a1a;"><span>5</span></div>
<div class="t" id="t89" style="left:54.31250000000003px;width:400px;text-align:center;top:429.84px;font-size:4.6px;color:#1a1a1a;"><span>23</span></div>
<div class="t" id="t90" style="left:54.31250000000003px;width:400px;text-align:center;top:367.65px;font-size:5.8px;color:#1a1a1a;"><span>25</span></div>
<div class="t" id="t91" style="left:62.637500000000045px;width:400px;text-align:center;top:429.84px;font-size:4.6px;color:#1a1a1a;"><span>24</span></div>
<div class="t" id="t92" style="left:62.637500000000045px;width:400px;text-align:center;top:360.27px;font-size:5.8px;color:#1a1a1a;"><span>29</span></div>
<div class="t" id="t93" style="left:70.96250000000003px;width:400px;text-align:center;top:429.84px;font-size:4.6px;color:#1a1a1a;"><span>25</span></div>
<div class="t" id="t94" style="left:70.96250000000003px;width:400px;text-align:center;top:363.96px;font-size:5.8px;color:#1a1a1a;"><span>27</span></div>
<div class="t" id="t95" style="left:79.28750000000002px;width:400px;text-align:center;top:429.84px;font-size:4.6px;color:#1a1a1a;"><span>26</span></div>
<div class="t" id="t96" style="left:79.28750000000002px;width:400px;text-align:center;top:303.04px;font-size:5.8px;color:#1a1a1a;"><span>60</span></div>
<div class="t" id="t97" style="left:87.61250000000007px;width:400px;text-align:center;top:429.84px;font-size:4.6px;color:#1a1a1a;"><span>27</span></div>
<div class="t" id="t98" style="left:87.61250000000007px;width:400px;text-align:center;top:306.73px;font-size:5.8px;color:#1a1a1a;"><span>58</span></div>
<div class="t" id="t99" style="left:95.9375px;width:400px;text-align:center;top:429.84px;font-size:4.6px;color:#1a1a1a;"><span>28</span></div>
<div class="t" id="t100" style="left:95.9375px;width:400px;text-align:center;top:315.96px;font-size:5.8px;color:#1a1a1a;"><span>53</span></div>
<div class="t" id="t101" style="left:104.26250000000005px;width:400px;text-align:center;top:429.84px;font-size:4.6px;color:#1a1a1a;"><span>29</span></div>
<div class="t" id="t102" style="left:104.26250000000005px;width:400px;text-align:center;top:356.57px;font-size:5.8px;color:#1a1a1a;"><span>31</span></div>
<div class="t" id="t103" style="left:112.58750000000003px;width:400px;text-align:center;top:429.84px;font-size:4.6px;color:#1a1a1a;"><span>30</span></div>
<div class="t" id="t104" style="left:112.58750000000003px;width:400px;text-align:center;top:345.50px;font-size:5.8px;color:#1a1a1a;"><span>37</span></div>
<div class="t" id="t105" style="left:120.91250000000002px;width:400px;text-align:center;top:429.84px;font-size:4.6px;color:#1a1a1a;"><span>31</span></div>
<div class="t" id="t106" style="left:120.91250000000002px;width:400px;text-align:center;top:389.80px;font-size:5.8px;color:#1a1a1a;"><span>13</span></div>
<div class="t" id="t107" style="left:129.2375px;width:400px;text-align:center;top:429.84px;font-size:4.6px;color:#1a1a1a;"><span>32</span></div>
<div class="t" id="t108" style="left:129.2375px;width:400px;text-align:center;top:391.65px;font-size:5.8px;color:#1a1a1a;"><span>12</span></div>
<div class="t" id="t109" style="left:137.56250000000006px;width:400px;text-align:center;top:429.84px;font-size:4.6px;color:#1a1a1a;"><span>33</span></div>
<div class="t" id="t110" style="left:137.56250000000006px;width:400px;text-align:center;top:397.19px;font-size:5.8px;color:#1a1a1a;"><span>9</span></div>
<div class="t" id="t111" style="left:145.88750000000005px;width:400px;text-align:center;top:429.84px;font-size:4.6px;color:#1a1a1a;"><span>34</span></div>
<div class="t" id="t112" style="left:145.88750000000005px;width:400px;text-align:center;top:397.19px;font-size:5.8px;color:#1a1a1a;"><span>9</span></div>
<div class="t" id="t113" style="left:154.21250000000003px;width:400px;text-align:center;top:429.84px;font-size:4.6px;color:#1a1a1a;"><span>35</span></div>
<div class="t" id="t114" style="left:154.21250000000003px;width:400px;text-align:center;top:391.65px;font-size:5.8px;color:#1a1a1a;"><span>12</span></div>
<div class="t" id="t115" style="left:162.53750000000002px;width:400px;text-align:center;top:429.84px;font-size:4.6px;color:#1a1a1a;"><span>36</span></div>
<div class="t" id="t116" style="left:162.53750000000002px;width:400px;text-align:center;top:399.03px;font-size:5.8px;color:#1a1a1a;"><span>8</span></div>
<div class="t" id="t117" style="left:170.8625px;width:400px;text-align:center;top:429.84px;font-size:4.6px;color:#1a1a1a;"><span>37</span></div>
<div class="t" id="t118" style="left:170.8625px;width:400px;text-align:center;top:395.34px;font-size:5.8px;color:#1a1a1a;"><span>10</span></div>
<div class="t" id="t119" style="left:179.18750000000006px;width:400px;text-align:center;top:429.84px;font-size:4.6px;color:#1a1a1a;"><span>38</span></div>
<div class="t" id="t120" style="left:179.18750000000006px;width:400px;text-align:center;top:411.95px;font-size:5.8px;color:#1a1a1a;"><span>1</span></div>
<div class="t" id="t121" style="left:187.51250000000005px;width:400px;text-align:center;top:429.84px;font-size:4.6px;color:#1a1a1a;"><span>39</span></div>
<div class="t" id="t122" style="left:187.51250000000005px;width:400px;text-align:center;top:406.42px;font-size:5.8px;color:#1a1a1a;"><span>4</span></div>
<div class="t" id="t123" style="left:195.83750000000003px;width:400px;text-align:center;top:429.84px;font-size:4.6px;color:#1a1a1a;"><span>40</span></div>
<div class="t" id="t124" style="left:195.83750000000003px;width:400px;text-align:center;top:408.26px;font-size:5.8px;color:#1a1a1a;"><span>3</span></div>
<div class="t" id="t125" style="left:204.16250000000002px;width:400px;text-align:center;top:429.84px;font-size:4.6px;color:#1a1a1a;"><span>41</span></div>
<div class="t" id="t126" style="left:204.16250000000002px;width:400px;text-align:center;top:408.26px;font-size:5.8px;color:#1a1a1a;"><span>3</span></div>
<div class="t" id="t127" style="left:212.48750000000007px;width:400px;text-align:center;top:429.84px;font-size:4.6px;color:#1a1a1a;"><span>42</span></div>
<div class="t" id="t128" style="left:212.48750000000007px;width:400px;text-align:center;top:410.11px;font-size:5.8px;color:#1a1a1a;"><span>2</span></div>
<div class="t" id="t129" style="left:220.81250000000006px;width:400px;text-align:center;top:429.84px;font-size:4.6px;color:#1a1a1a;"><span>43</span></div>
<div class="t" id="t130" style="left:220.81250000000006px;width:400px;text-align:center;top:408.26px;font-size:5.8px;color:#1a1a1a;"><span>3</span></div>
<div class="t" id="t131" style="left:229.13750000000005px;width:400px;text-align:center;top:429.84px;font-size:4.6px;color:#1a1a1a;"><span>44</span></div>
<div class="t" id="t132" style="left:229.13750000000005px;width:400px;text-align:center;top:410.11px;font-size:5.8px;color:#1a1a1a;"><span>2</span></div>
<div class="t" id="t133" style="left:472.9px;top:264.90px;font-size:10.5px;color:#1f1f1f;transform:scaleX(1.0080);transform-origin:left top;">Province wise distribution of COVID-19 cases</div>
<div class="t" id="t134" style="left:489px;top:292.23px;font-size:10.8px;color:#1f1f1f;transform:scaleX(0.9538);transform-origin:left top;">Province</div>
<div class="t" id="t135" style="left:578.75px;top:292.23px;font-size:10.8px;color:#1f1f1f;transform:scaleX(0.9392);transform-origin:left top;">Last 7 days</div>
<div class="t" id="t136" style="left:651.25px;top:283.98px;font-size:10.8px;color:#1f1f1f;transform:scaleX(1.0051);transform-origin:left top;">Cumulative</div>
<div class="t" id="t137" style="left:655.25px;top:299.48px;font-size:10.8px;color:#1f1f1f;">total case</div>
<div class="t" id="t138" style="left:463.9px;top:316.64px;font-size:12px;color:#1f1f1f;font-weight:normal;transform:scaleX(0.9740);transform-origin:left top;">Koshi</div>
<div class="t" id="t139" style="right:100.10000000000002px;top:316.46px;font-size:12.2px;color:#1f1f1f;font-weight:normal;">0</div>
<div class="t" id="t140" style="right:24.299999999999955px;top:316.46px;font-size:12.2px;color:#1f1f1f;font-weight:normal;">51</div>
<div class="t" id="t141" style="left:463.9px;top:338.64px;font-size:12px;color:#1f1f1f;font-weight:normal;transform:scaleX(0.9772);transform-origin:left top;">Madhesh</div>
<div class="t" id="t142" style="right:100.10000000000002px;top:338.46px;font-size:12.2px;color:#1f1f1f;font-weight:normal;">0</div>
<div class="t" id="t143" style="right:24.299999999999955px;top:338.46px;font-size:12.2px;color:#1f1f1f;font-weight:normal;">19</div>
<div class="t" id="t144" style="left:463.9px;top:362.64px;font-size:12px;color:#1f1f1f;font-weight:normal;transform:scaleX(1.0106);transform-origin:left top;">Bagmati</div>
<div class="t" id="t145" style="right:100.10000000000002px;top:362.46px;font-size:12.2px;color:#1f1f1f;font-weight:normal;">3</div>
<div class="t" id="t146" style="right:24.299999999999955px;top:362.46px;font-size:12.2px;color:#1f1f1f;font-weight:normal;">341</div>
<div class="t" id="t147" style="left:463.9px;top:386.89px;font-size:12px;color:#1f1f1f;font-weight:normal;transform:scaleX(0.9843);transform-origin:left top;">Gandaki</div>
<div class="t" id="t148" style="right:100.10000000000002px;top:386.71px;font-size:12.2px;color:#1f1f1f;font-weight:normal;">0</div>
<div class="t" id="t149" style="right:24.299999999999955px;top:386.71px;font-size:12.2px;color:#1f1f1f;font-weight:normal;">31</div>
<div class="t" id="t150" style="left:463.9px;top:408.14px;font-size:12px;color:#1f1f1f;font-weight:normal;transform:scaleX(1.0171);transform-origin:left top;">Lumbini</div>
<div class="t" id="t151" style="right:100.10000000000002px;top:407.96px;font-size:12.2px;color:#1f1f1f;font-weight:normal;">0</div>
<div class="t" id="t152" style="right:24.299999999999955px;top:407.96px;font-size:12.2px;color:#1f1f1f;font-weight:normal;">31</div>
<div class="t" id="t153" style="left:463.9px;top:429.89px;font-size:12px;color:#1f1f1f;font-weight:normal;transform:scaleX(0.9770);transform-origin:left top;">Karnali</div>
<div class="t" id="t154" style="right:100.10000000000002px;top:429.71px;font-size:12.2px;color:#1f1f1f;font-weight:normal;">0</div>
<div class="t" id="t155" style="right:24.299999999999955px;top:429.71px;font-size:12.2px;color:#1f1f1f;font-weight:normal;">10</div>
<div class="t" id="t156" style="left:463.9px;top:452.64px;font-size:12px;color:#1f1f1f;font-weight:normal;transform:scaleX(1.0133);transform-origin:left top;">Sudurpashchim</div>
<div class="t" id="t157" style="right:100.10000000000002px;top:452.46px;font-size:12.2px;color:#1f1f1f;font-weight:normal;">0</div>
<div class="t" id="t158" style="right:24.299999999999955px;top:452.46px;font-size:12.2px;color:#1f1f1f;font-weight:normal;">24</div>
</body></html>
